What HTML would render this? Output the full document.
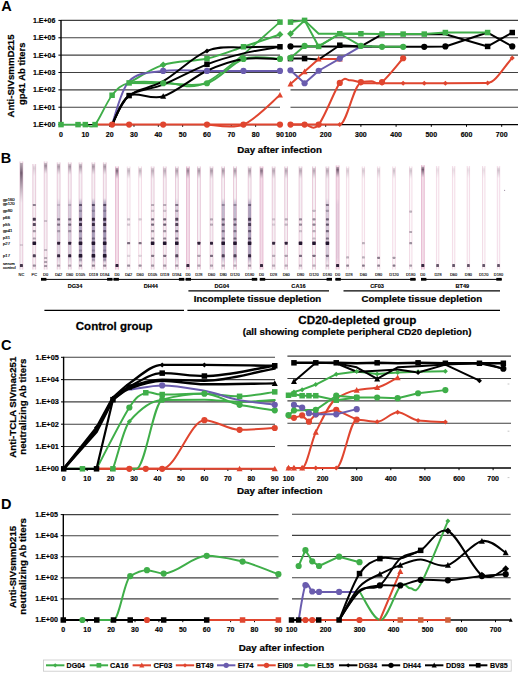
<!DOCTYPE html>
<html><head><meta charset="utf-8"><title>Figure</title>
<style>
html,body{margin:0;padding:0;background:#fff;}
body{width:520px;height:673px;overflow:hidden;}
svg{display:block;font-family:"Liberation Sans", sans-serif;}
</style></head>
<body>
<svg width="520" height="673" viewBox="0 0 520 673">
<rect width="520" height="673" fill="#fff"/>
<text x="1.20" y="11.40" font-size="14.5" font-weight="bold" text-anchor="start" fill="#000">A</text>
<line x1="61.00" y1="20.40" x2="280.00" y2="20.40" stroke="#404040" stroke-width="1.1"/>
<line x1="58.40" y1="20.40" x2="61.00" y2="20.40" stroke="#000" stroke-width="1"/>
<text x="55.40" y="22.80" font-size="7" font-weight="bold" text-anchor="end" fill="#000" textLength="22.4" lengthAdjust="spacingAndGlyphs" stroke="#000" stroke-width="0.154">1.E+06</text>
<line x1="61.00" y1="37.77" x2="280.00" y2="37.77" stroke="#404040" stroke-width="1.1"/>
<line x1="58.40" y1="37.77" x2="61.00" y2="37.77" stroke="#000" stroke-width="1"/>
<text x="55.40" y="40.17" font-size="7" font-weight="bold" text-anchor="end" fill="#000" textLength="22.4" lengthAdjust="spacingAndGlyphs" stroke="#000" stroke-width="0.154">1.E+05</text>
<line x1="61.00" y1="55.13" x2="280.00" y2="55.13" stroke="#404040" stroke-width="1.1"/>
<line x1="58.40" y1="55.13" x2="61.00" y2="55.13" stroke="#000" stroke-width="1"/>
<text x="55.40" y="57.53" font-size="7" font-weight="bold" text-anchor="end" fill="#000" textLength="22.4" lengthAdjust="spacingAndGlyphs" stroke="#000" stroke-width="0.154">1.E+04</text>
<line x1="61.00" y1="72.50" x2="280.00" y2="72.50" stroke="#404040" stroke-width="1.1"/>
<line x1="58.40" y1="72.50" x2="61.00" y2="72.50" stroke="#000" stroke-width="1"/>
<text x="55.40" y="74.90" font-size="7" font-weight="bold" text-anchor="end" fill="#000" textLength="22.4" lengthAdjust="spacingAndGlyphs" stroke="#000" stroke-width="0.154">1.E+03</text>
<line x1="61.00" y1="89.87" x2="280.00" y2="89.87" stroke="#404040" stroke-width="1.1"/>
<line x1="58.40" y1="89.87" x2="61.00" y2="89.87" stroke="#000" stroke-width="1"/>
<text x="55.40" y="92.27" font-size="7" font-weight="bold" text-anchor="end" fill="#000" textLength="22.4" lengthAdjust="spacingAndGlyphs" stroke="#000" stroke-width="0.154">1.E+02</text>
<line x1="61.00" y1="107.23" x2="280.00" y2="107.23" stroke="#404040" stroke-width="1.1"/>
<line x1="58.40" y1="107.23" x2="61.00" y2="107.23" stroke="#000" stroke-width="1"/>
<text x="55.40" y="109.63" font-size="7" font-weight="bold" text-anchor="end" fill="#000" textLength="22.4" lengthAdjust="spacingAndGlyphs" stroke="#000" stroke-width="0.154">1.E+01</text>
<line x1="58.40" y1="124.60" x2="61.00" y2="124.60" stroke="#000" stroke-width="1"/>
<text x="55.40" y="127.00" font-size="7" font-weight="bold" text-anchor="end" fill="#000" textLength="22.4" lengthAdjust="spacingAndGlyphs" stroke="#000" stroke-width="0.154">1.E+00</text>
<line x1="290.50" y1="20.40" x2="518.00" y2="20.40" stroke="#404040" stroke-width="1.1"/>
<line x1="290.50" y1="37.77" x2="518.00" y2="37.77" stroke="#404040" stroke-width="1.1"/>
<line x1="290.50" y1="55.13" x2="518.00" y2="55.13" stroke="#404040" stroke-width="1.1"/>
<line x1="290.50" y1="72.50" x2="518.00" y2="72.50" stroke="#404040" stroke-width="1.1"/>
<line x1="290.50" y1="89.87" x2="518.00" y2="89.87" stroke="#404040" stroke-width="1.1"/>
<line x1="290.50" y1="107.23" x2="518.00" y2="107.23" stroke="#404040" stroke-width="1.1"/>
<line x1="61.00" y1="19.90" x2="61.00" y2="125.30" stroke="#000" stroke-width="1.4"/>
<line x1="61.00" y1="124.60" x2="280.00" y2="124.60" stroke="#000" stroke-width="1.4"/>
<line x1="290.50" y1="124.60" x2="518.00" y2="124.60" stroke="#000" stroke-width="1.4"/>
<text x="61.00" y="137.00" font-size="7.0" font-weight="bold" text-anchor="middle" fill="#000" stroke="#000" stroke-width="0.154">0</text>
<text x="85.33" y="137.00" font-size="7.0" font-weight="bold" text-anchor="middle" fill="#000" stroke="#000" stroke-width="0.154">10</text>
<text x="109.66" y="137.00" font-size="7.0" font-weight="bold" text-anchor="middle" fill="#000" stroke="#000" stroke-width="0.154">20</text>
<text x="133.99" y="137.00" font-size="7.0" font-weight="bold" text-anchor="middle" fill="#000" stroke="#000" stroke-width="0.154">30</text>
<text x="158.32" y="137.00" font-size="7.0" font-weight="bold" text-anchor="middle" fill="#000" stroke="#000" stroke-width="0.154">40</text>
<text x="182.65" y="137.00" font-size="7.0" font-weight="bold" text-anchor="middle" fill="#000" stroke="#000" stroke-width="0.154">50</text>
<text x="206.98" y="137.00" font-size="7.0" font-weight="bold" text-anchor="middle" fill="#000" stroke="#000" stroke-width="0.154">60</text>
<text x="231.31" y="137.00" font-size="7.0" font-weight="bold" text-anchor="middle" fill="#000" stroke="#000" stroke-width="0.154">70</text>
<text x="255.64" y="137.00" font-size="7.0" font-weight="bold" text-anchor="middle" fill="#000" stroke="#000" stroke-width="0.154">80</text>
<text x="279.97" y="137.00" font-size="7.0" font-weight="bold" text-anchor="middle" fill="#000" stroke="#000" stroke-width="0.154">90</text>
<text x="290.50" y="137.00" font-size="7.0" font-weight="bold" text-anchor="middle" fill="#000" stroke="#000" stroke-width="0.154">100</text>
<text x="325.70" y="137.00" font-size="7.0" font-weight="bold" text-anchor="middle" fill="#000" stroke="#000" stroke-width="0.154">200</text>
<text x="360.90" y="137.00" font-size="7.0" font-weight="bold" text-anchor="middle" fill="#000" stroke="#000" stroke-width="0.154">300</text>
<text x="396.10" y="137.00" font-size="7.0" font-weight="bold" text-anchor="middle" fill="#000" stroke="#000" stroke-width="0.154">400</text>
<text x="431.30" y="137.00" font-size="7.0" font-weight="bold" text-anchor="middle" fill="#000" stroke="#000" stroke-width="0.154">500</text>
<text x="466.50" y="137.00" font-size="7.0" font-weight="bold" text-anchor="middle" fill="#000" stroke="#000" stroke-width="0.154">600</text>
<text x="501.70" y="137.00" font-size="7.0" font-weight="bold" text-anchor="middle" fill="#000" stroke="#000" stroke-width="0.154">700</text>
<line x1="85.33" y1="124.6" x2="85.33" y2="126.8" stroke="#000" stroke-width="1"/>
<line x1="109.66" y1="124.6" x2="109.66" y2="126.8" stroke="#000" stroke-width="1"/>
<line x1="133.99" y1="124.6" x2="133.99" y2="126.8" stroke="#000" stroke-width="1"/>
<line x1="158.32" y1="124.6" x2="158.32" y2="126.8" stroke="#000" stroke-width="1"/>
<line x1="182.65" y1="124.6" x2="182.65" y2="126.8" stroke="#000" stroke-width="1"/>
<line x1="206.98" y1="124.6" x2="206.98" y2="126.8" stroke="#000" stroke-width="1"/>
<line x1="231.31" y1="124.6" x2="231.31" y2="126.8" stroke="#000" stroke-width="1"/>
<line x1="255.64" y1="124.6" x2="255.64" y2="126.8" stroke="#000" stroke-width="1"/>
<line x1="279.97" y1="124.6" x2="279.97" y2="126.8" stroke="#000" stroke-width="1"/>
<line x1="325.70" y1="124.6" x2="325.70" y2="126.8" stroke="#000" stroke-width="1"/>
<line x1="360.90" y1="124.6" x2="360.90" y2="126.8" stroke="#000" stroke-width="1"/>
<line x1="396.10" y1="124.6" x2="396.10" y2="126.8" stroke="#000" stroke-width="1"/>
<line x1="431.30" y1="124.6" x2="431.30" y2="126.8" stroke="#000" stroke-width="1"/>
<line x1="466.50" y1="124.6" x2="466.50" y2="126.8" stroke="#000" stroke-width="1"/>
<line x1="501.70" y1="124.6" x2="501.70" y2="126.8" stroke="#000" stroke-width="1"/>
<text x="0" y="0" transform="translate(14.40,76.00) rotate(-90)" font-size="9.9" font-weight="bold" text-anchor="middle" fill="#000" textLength="83.0" lengthAdjust="spacingAndGlyphs" stroke="#000" stroke-width="0.218">Anti-SIVsmmD215</text>
<text x="0" y="0" transform="translate(24.60,73.80) rotate(-90)" font-size="9.9" font-weight="bold" text-anchor="middle" fill="#000" textLength="62.4" lengthAdjust="spacingAndGlyphs" stroke="#000" stroke-width="0.218">gp41 Ab titers</text>
<text x="279.60" y="153.10" font-size="9.9" font-weight="bold" text-anchor="middle" fill="#000" textLength="84.6" lengthAdjust="spacingAndGlyphs" stroke="#000" stroke-width="0.218">Day after infection</text>
<text x="1.00" y="349.70" font-size="14.5" font-weight="bold" text-anchor="start" fill="#000">C</text>
<line x1="63.60" y1="357.30" x2="275.00" y2="357.30" stroke="#404040" stroke-width="1.1"/>
<line x1="61.00" y1="357.30" x2="63.60" y2="357.30" stroke="#000" stroke-width="1"/>
<text x="58.80" y="359.70" font-size="7.3" font-weight="bold" text-anchor="end" fill="#000" textLength="23.4" lengthAdjust="spacingAndGlyphs" stroke="#000" stroke-width="0.161">1.E+05</text>
<line x1="63.60" y1="379.60" x2="275.00" y2="379.60" stroke="#404040" stroke-width="1.1"/>
<line x1="61.00" y1="379.60" x2="63.60" y2="379.60" stroke="#000" stroke-width="1"/>
<text x="58.80" y="382.00" font-size="7.3" font-weight="bold" text-anchor="end" fill="#000" textLength="23.4" lengthAdjust="spacingAndGlyphs" stroke="#000" stroke-width="0.161">1.E+04</text>
<line x1="63.60" y1="401.90" x2="275.00" y2="401.90" stroke="#404040" stroke-width="1.1"/>
<line x1="61.00" y1="401.90" x2="63.60" y2="401.90" stroke="#000" stroke-width="1"/>
<text x="58.80" y="404.30" font-size="7.3" font-weight="bold" text-anchor="end" fill="#000" textLength="23.4" lengthAdjust="spacingAndGlyphs" stroke="#000" stroke-width="0.161">1.E+03</text>
<line x1="63.60" y1="424.20" x2="275.00" y2="424.20" stroke="#404040" stroke-width="1.1"/>
<line x1="61.00" y1="424.20" x2="63.60" y2="424.20" stroke="#000" stroke-width="1"/>
<text x="58.80" y="426.60" font-size="7.3" font-weight="bold" text-anchor="end" fill="#000" textLength="23.4" lengthAdjust="spacingAndGlyphs" stroke="#000" stroke-width="0.161">1.E+02</text>
<line x1="63.60" y1="446.50" x2="275.00" y2="446.50" stroke="#404040" stroke-width="1.1"/>
<line x1="61.00" y1="446.50" x2="63.60" y2="446.50" stroke="#000" stroke-width="1"/>
<text x="58.80" y="448.90" font-size="7.3" font-weight="bold" text-anchor="end" fill="#000" textLength="23.4" lengthAdjust="spacingAndGlyphs" stroke="#000" stroke-width="0.161">1.E+01</text>
<line x1="61.00" y1="468.80" x2="63.60" y2="468.80" stroke="#000" stroke-width="1"/>
<text x="58.80" y="471.20" font-size="7.3" font-weight="bold" text-anchor="end" fill="#000" textLength="23.4" lengthAdjust="spacingAndGlyphs" stroke="#000" stroke-width="0.161">1.E+00</text>
<line x1="287.40" y1="356.10" x2="511.00" y2="356.10" stroke="#404040" stroke-width="1.1"/>
<line x1="287.40" y1="378.48" x2="511.00" y2="378.48" stroke="#404040" stroke-width="1.1"/>
<line x1="287.40" y1="400.86" x2="511.00" y2="400.86" stroke="#404040" stroke-width="1.1"/>
<line x1="287.40" y1="423.24" x2="511.00" y2="423.24" stroke="#404040" stroke-width="1.1"/>
<line x1="287.40" y1="445.62" x2="511.00" y2="445.62" stroke="#404040" stroke-width="1.1"/>
<line x1="63.60" y1="356.80" x2="63.60" y2="469.50" stroke="#000" stroke-width="1.4"/>
<line x1="63.60" y1="468.80" x2="275.00" y2="468.80" stroke="#000" stroke-width="1.4"/>
<line x1="287.40" y1="468.00" x2="511.00" y2="468.00" stroke="#000" stroke-width="1.4"/>
<text x="63.70" y="480.60" font-size="7.0" font-weight="bold" text-anchor="middle" fill="#000" stroke="#000" stroke-width="0.154">0</text>
<text x="87.15" y="480.60" font-size="7.0" font-weight="bold" text-anchor="middle" fill="#000" stroke="#000" stroke-width="0.154">10</text>
<text x="110.60" y="480.60" font-size="7.0" font-weight="bold" text-anchor="middle" fill="#000" stroke="#000" stroke-width="0.154">20</text>
<text x="134.05" y="480.60" font-size="7.0" font-weight="bold" text-anchor="middle" fill="#000" stroke="#000" stroke-width="0.154">30</text>
<text x="157.50" y="480.60" font-size="7.0" font-weight="bold" text-anchor="middle" fill="#000" stroke="#000" stroke-width="0.154">40</text>
<text x="180.95" y="480.60" font-size="7.0" font-weight="bold" text-anchor="middle" fill="#000" stroke="#000" stroke-width="0.154">50</text>
<text x="204.40" y="480.60" font-size="7.0" font-weight="bold" text-anchor="middle" fill="#000" stroke="#000" stroke-width="0.154">60</text>
<text x="227.85" y="480.60" font-size="7.0" font-weight="bold" text-anchor="middle" fill="#000" stroke="#000" stroke-width="0.154">70</text>
<text x="251.30" y="480.60" font-size="7.0" font-weight="bold" text-anchor="middle" fill="#000" stroke="#000" stroke-width="0.154">80</text>
<text x="274.75" y="480.60" font-size="7.0" font-weight="bold" text-anchor="middle" fill="#000" stroke="#000" stroke-width="0.154">90</text>
<text x="288.50" y="480.60" font-size="7.0" font-weight="bold" text-anchor="middle" fill="#000" stroke="#000" stroke-width="0.154">100</text>
<text x="322.60" y="480.60" font-size="7.0" font-weight="bold" text-anchor="middle" fill="#000" stroke="#000" stroke-width="0.154">200</text>
<text x="356.70" y="480.60" font-size="7.0" font-weight="bold" text-anchor="middle" fill="#000" stroke="#000" stroke-width="0.154">300</text>
<text x="390.80" y="480.60" font-size="7.0" font-weight="bold" text-anchor="middle" fill="#000" stroke="#000" stroke-width="0.154">400</text>
<text x="424.90" y="480.60" font-size="7.0" font-weight="bold" text-anchor="middle" fill="#000" stroke="#000" stroke-width="0.154">500</text>
<text x="459.00" y="480.60" font-size="7.0" font-weight="bold" text-anchor="middle" fill="#000" stroke="#000" stroke-width="0.154">600</text>
<text x="493.10" y="480.60" font-size="7.0" font-weight="bold" text-anchor="middle" fill="#000" stroke="#000" stroke-width="0.154">700</text>
<line x1="87.15" y1="468.8" x2="87.15" y2="471" stroke="#000" stroke-width="1"/>
<line x1="110.60" y1="468.8" x2="110.60" y2="471" stroke="#000" stroke-width="1"/>
<line x1="134.05" y1="468.8" x2="134.05" y2="471" stroke="#000" stroke-width="1"/>
<line x1="157.50" y1="468.8" x2="157.50" y2="471" stroke="#000" stroke-width="1"/>
<line x1="180.95" y1="468.8" x2="180.95" y2="471" stroke="#000" stroke-width="1"/>
<line x1="204.40" y1="468.8" x2="204.40" y2="471" stroke="#000" stroke-width="1"/>
<line x1="227.85" y1="468.8" x2="227.85" y2="471" stroke="#000" stroke-width="1"/>
<line x1="251.30" y1="468.8" x2="251.30" y2="471" stroke="#000" stroke-width="1"/>
<line x1="274.75" y1="468.8" x2="274.75" y2="471" stroke="#000" stroke-width="1"/>
<line x1="322.60" y1="468" x2="322.60" y2="470.2" stroke="#000" stroke-width="1"/>
<line x1="356.70" y1="468" x2="356.70" y2="470.2" stroke="#000" stroke-width="1"/>
<line x1="390.80" y1="468" x2="390.80" y2="470.2" stroke="#000" stroke-width="1"/>
<line x1="424.90" y1="468" x2="424.90" y2="470.2" stroke="#000" stroke-width="1"/>
<line x1="459.00" y1="468" x2="459.00" y2="470.2" stroke="#000" stroke-width="1"/>
<line x1="493.10" y1="468" x2="493.10" y2="470.2" stroke="#000" stroke-width="1"/>
<text x="0" y="0" transform="translate(15.70,407.20) rotate(-90)" font-size="9.9" font-weight="bold" text-anchor="middle" fill="#000" textLength="101.0" lengthAdjust="spacingAndGlyphs" stroke="#000" stroke-width="0.218">Anti-TCLA SIVmac251</text>
<text x="0" y="0" transform="translate(26.40,406.70) rotate(-90)" font-size="9.9" font-weight="bold" text-anchor="middle" fill="#000" textLength="96.0" lengthAdjust="spacingAndGlyphs" stroke="#000" stroke-width="0.218">neutralizing Ab titers</text>
<text x="279.80" y="494.00" font-size="9.9" font-weight="bold" text-anchor="middle" fill="#000" textLength="85.5" lengthAdjust="spacingAndGlyphs" stroke="#000" stroke-width="0.218">Day after infection</text>
<text x="1.00" y="509.00" font-size="14.5" font-weight="bold" text-anchor="start" fill="#000">D</text>
<line x1="63.30" y1="514.60" x2="278.50" y2="514.60" stroke="#404040" stroke-width="1.1"/>
<line x1="60.70" y1="514.60" x2="63.30" y2="514.60" stroke="#000" stroke-width="1"/>
<text x="57.90" y="517.00" font-size="7.1" font-weight="bold" text-anchor="end" fill="#000" textLength="22.7" lengthAdjust="spacingAndGlyphs" stroke="#000" stroke-width="0.156">1.E+05</text>
<line x1="63.30" y1="535.68" x2="278.50" y2="535.68" stroke="#404040" stroke-width="1.1"/>
<line x1="60.70" y1="535.68" x2="63.30" y2="535.68" stroke="#000" stroke-width="1"/>
<text x="57.90" y="538.08" font-size="7.1" font-weight="bold" text-anchor="end" fill="#000" textLength="22.7" lengthAdjust="spacingAndGlyphs" stroke="#000" stroke-width="0.156">1.E+04</text>
<line x1="63.30" y1="556.76" x2="278.50" y2="556.76" stroke="#404040" stroke-width="1.1"/>
<line x1="60.70" y1="556.76" x2="63.30" y2="556.76" stroke="#000" stroke-width="1"/>
<text x="57.90" y="559.16" font-size="7.1" font-weight="bold" text-anchor="end" fill="#000" textLength="22.7" lengthAdjust="spacingAndGlyphs" stroke="#000" stroke-width="0.156">1.E+03</text>
<line x1="63.30" y1="577.84" x2="278.50" y2="577.84" stroke="#404040" stroke-width="1.1"/>
<line x1="60.70" y1="577.84" x2="63.30" y2="577.84" stroke="#000" stroke-width="1"/>
<text x="57.90" y="580.24" font-size="7.1" font-weight="bold" text-anchor="end" fill="#000" textLength="22.7" lengthAdjust="spacingAndGlyphs" stroke="#000" stroke-width="0.156">1.E+02</text>
<line x1="63.30" y1="598.92" x2="278.50" y2="598.92" stroke="#404040" stroke-width="1.1"/>
<line x1="60.70" y1="598.92" x2="63.30" y2="598.92" stroke="#000" stroke-width="1"/>
<text x="57.90" y="601.32" font-size="7.1" font-weight="bold" text-anchor="end" fill="#000" textLength="22.7" lengthAdjust="spacingAndGlyphs" stroke="#000" stroke-width="0.156">1.E+01</text>
<line x1="60.70" y1="620.00" x2="63.30" y2="620.00" stroke="#000" stroke-width="1"/>
<text x="57.90" y="622.40" font-size="7.1" font-weight="bold" text-anchor="end" fill="#000" textLength="22.7" lengthAdjust="spacingAndGlyphs" stroke="#000" stroke-width="0.156">1.E+00</text>
<line x1="292.00" y1="514.20" x2="510.70" y2="514.20" stroke="#404040" stroke-width="1.1"/>
<line x1="292.00" y1="535.36" x2="510.70" y2="535.36" stroke="#404040" stroke-width="1.1"/>
<line x1="292.00" y1="556.52" x2="510.70" y2="556.52" stroke="#404040" stroke-width="1.1"/>
<line x1="292.00" y1="577.68" x2="510.70" y2="577.68" stroke="#404040" stroke-width="1.1"/>
<line x1="292.00" y1="598.84" x2="510.70" y2="598.84" stroke="#404040" stroke-width="1.1"/>
<line x1="63.30" y1="514.10" x2="63.30" y2="620.70" stroke="#000" stroke-width="1.4"/>
<line x1="63.30" y1="620.00" x2="278.50" y2="620.00" stroke="#000" stroke-width="1.4"/>
<line x1="292.00" y1="620.00" x2="510.70" y2="620.00" stroke="#000" stroke-width="1.4"/>
<text x="63.30" y="632.00" font-size="7.0" font-weight="bold" text-anchor="middle" fill="#000" stroke="#000" stroke-width="0.154">0</text>
<text x="87.20" y="632.00" font-size="7.0" font-weight="bold" text-anchor="middle" fill="#000" stroke="#000" stroke-width="0.154">10</text>
<text x="111.10" y="632.00" font-size="7.0" font-weight="bold" text-anchor="middle" fill="#000" stroke="#000" stroke-width="0.154">20</text>
<text x="135.00" y="632.00" font-size="7.0" font-weight="bold" text-anchor="middle" fill="#000" stroke="#000" stroke-width="0.154">30</text>
<text x="158.90" y="632.00" font-size="7.0" font-weight="bold" text-anchor="middle" fill="#000" stroke="#000" stroke-width="0.154">40</text>
<text x="182.80" y="632.00" font-size="7.0" font-weight="bold" text-anchor="middle" fill="#000" stroke="#000" stroke-width="0.154">50</text>
<text x="206.70" y="632.00" font-size="7.0" font-weight="bold" text-anchor="middle" fill="#000" stroke="#000" stroke-width="0.154">60</text>
<text x="230.60" y="632.00" font-size="7.0" font-weight="bold" text-anchor="middle" fill="#000" stroke="#000" stroke-width="0.154">70</text>
<text x="254.50" y="632.00" font-size="7.0" font-weight="bold" text-anchor="middle" fill="#000" stroke="#000" stroke-width="0.154">80</text>
<text x="278.40" y="632.00" font-size="7.0" font-weight="bold" text-anchor="middle" fill="#000" stroke="#000" stroke-width="0.154">90</text>
<text x="291.50" y="632.00" font-size="7.0" font-weight="bold" text-anchor="middle" fill="#000" stroke="#000" stroke-width="0.154">100</text>
<text x="325.50" y="632.00" font-size="7.0" font-weight="bold" text-anchor="middle" fill="#000" stroke="#000" stroke-width="0.154">200</text>
<text x="359.50" y="632.00" font-size="7.0" font-weight="bold" text-anchor="middle" fill="#000" stroke="#000" stroke-width="0.154">300</text>
<text x="393.50" y="632.00" font-size="7.0" font-weight="bold" text-anchor="middle" fill="#000" stroke="#000" stroke-width="0.154">400</text>
<text x="427.50" y="632.00" font-size="7.0" font-weight="bold" text-anchor="middle" fill="#000" stroke="#000" stroke-width="0.154">500</text>
<text x="461.50" y="632.00" font-size="7.0" font-weight="bold" text-anchor="middle" fill="#000" stroke="#000" stroke-width="0.154">600</text>
<text x="495.50" y="632.00" font-size="7.0" font-weight="bold" text-anchor="middle" fill="#000" stroke="#000" stroke-width="0.154">700</text>
<line x1="87.20" y1="620" x2="87.20" y2="622.2" stroke="#000" stroke-width="1"/>
<line x1="111.10" y1="620" x2="111.10" y2="622.2" stroke="#000" stroke-width="1"/>
<line x1="135.00" y1="620" x2="135.00" y2="622.2" stroke="#000" stroke-width="1"/>
<line x1="158.90" y1="620" x2="158.90" y2="622.2" stroke="#000" stroke-width="1"/>
<line x1="182.80" y1="620" x2="182.80" y2="622.2" stroke="#000" stroke-width="1"/>
<line x1="206.70" y1="620" x2="206.70" y2="622.2" stroke="#000" stroke-width="1"/>
<line x1="230.60" y1="620" x2="230.60" y2="622.2" stroke="#000" stroke-width="1"/>
<line x1="254.50" y1="620" x2="254.50" y2="622.2" stroke="#000" stroke-width="1"/>
<line x1="278.40" y1="620" x2="278.40" y2="622.2" stroke="#000" stroke-width="1"/>
<line x1="325.50" y1="620" x2="325.50" y2="622.2" stroke="#000" stroke-width="1"/>
<line x1="359.50" y1="620" x2="359.50" y2="622.2" stroke="#000" stroke-width="1"/>
<line x1="393.50" y1="620" x2="393.50" y2="622.2" stroke="#000" stroke-width="1"/>
<line x1="427.50" y1="620" x2="427.50" y2="622.2" stroke="#000" stroke-width="1"/>
<line x1="461.50" y1="620" x2="461.50" y2="622.2" stroke="#000" stroke-width="1"/>
<line x1="495.50" y1="620" x2="495.50" y2="622.2" stroke="#000" stroke-width="1"/>
<text x="0" y="0" transform="translate(15.50,567.00) rotate(-90)" font-size="9.9" font-weight="bold" text-anchor="middle" fill="#000" textLength="82.0" lengthAdjust="spacingAndGlyphs" stroke="#000" stroke-width="0.218">Anti-SIVsmmD215</text>
<text x="0" y="0" transform="translate(26.40,566.40) rotate(-90)" font-size="9.9" font-weight="bold" text-anchor="middle" fill="#000" textLength="96.5" lengthAdjust="spacingAndGlyphs" stroke="#000" stroke-width="0.218">neutralizing Ab titers</text>
<text x="281.50" y="651.00" font-size="9.9" font-weight="bold" text-anchor="middle" fill="#000" textLength="85.5" lengthAdjust="spacingAndGlyphs" stroke="#000" stroke-width="0.218">Day after infection</text>
<path d="M129.12,82.91C134.80,79.90 150.21,68.90 163.19,64.85C176.16,60.79 193.60,61.60 206.98,58.59C220.36,55.58 231.31,50.81 243.47,46.78C255.64,42.76 273.89,36.51 279.97,34.45" fill="none" stroke="#3fae49" stroke-width="2.0" stroke-linejoin="round" stroke-linecap="round"/>
<path d="M61.00,124.60C63.84,124.60 73.98,124.60 78.03,124.60C82.09,124.60 82.49,124.60 85.33,124.60C88.17,124.60 90.60,129.49 95.06,124.60C99.52,119.71 106.42,102.19 112.09,95.24C117.77,88.30 120.61,85.11 129.12,82.91C137.64,80.71 150.21,82.19 163.19,82.04C176.16,81.90 187.52,92.03 206.98,82.04C226.44,72.06 267.80,32.10 279.97,22.12" fill="none" stroke="#3fae49" stroke-width="1.8" stroke-linejoin="round" stroke-linecap="round"/>
<path d="M206.98,124.60C213.06,124.60 231.31,129.52 243.47,124.60C255.64,119.68 273.89,99.99 279.97,95.07" fill="none" stroke="#e0452f" stroke-width="2.0" stroke-linejoin="round" stroke-linecap="round"/>
<path d="M112.09,124.60C114.93,117.36 120.61,90.12 129.12,81.17C137.64,72.23 150.21,72.63 163.19,70.93C176.16,69.22 193.60,70.93 206.98,70.93C220.36,70.93 231.31,70.93 243.47,70.93C255.64,70.93 273.89,70.93 279.97,70.93" fill="none" stroke="#6a5cae" stroke-width="2.0" stroke-linejoin="round" stroke-linecap="round"/>
<path d="M95.06,124.60C97.90,124.60 106.42,124.60 112.09,124.60C117.77,124.60 120.61,124.60 129.12,124.60C137.64,124.60 150.21,124.60 163.19,124.60C176.16,124.60 193.60,124.60 206.98,124.60C220.36,124.60 231.31,124.60 243.47,124.60C255.64,124.60 273.89,124.60 279.97,124.60" fill="none" stroke="#e0452f" stroke-width="2.0" stroke-linejoin="round" stroke-linecap="round"/>
<path d="M129.12,82.91C134.80,82.97 150.21,83.20 163.19,83.26C176.16,83.32 193.60,87.31 206.98,83.26C220.36,79.21 231.31,62.99 243.47,58.94C255.64,54.89 273.89,58.94 279.97,58.94" fill="none" stroke="#3fae49" stroke-width="2.0" stroke-linejoin="round" stroke-linecap="round"/>
<path d="M112.09,124.60C114.93,119.77 120.61,102.83 129.12,95.59C137.64,88.35 150.21,88.62 163.19,81.17C176.16,73.73 193.60,56.60 206.98,50.95C220.36,45.31 231.31,48.00 243.47,47.30C255.64,46.61 273.89,46.87 279.97,46.78" fill="none" stroke="#000000" stroke-width="2.0" stroke-linejoin="round" stroke-linecap="round"/>
<path d="M112.09,124.60C114.93,119.77 120.61,100.31 129.12,95.59C137.64,90.87 150.21,100.43 163.19,96.29C176.16,92.15 193.60,76.98 206.98,70.75C220.36,64.53 231.31,60.91 243.47,58.94C255.64,56.97 273.89,58.94 279.97,58.94" fill="none" stroke="#000000" stroke-width="2.0" stroke-linejoin="round" stroke-linecap="round"/>
<path d="M112.09,124.60C114.93,119.77 120.61,102.25 129.12,95.59C137.64,88.93 150.21,89.86 163.19,84.65C176.16,79.44 193.60,69.54 206.98,64.33C220.36,59.12 231.31,56.31 243.47,53.38C255.64,50.46 273.89,47.88 279.97,46.78" fill="none" stroke="#000000" stroke-width="2.0" stroke-linejoin="round" stroke-linecap="round"/>
<path d="M163.19,61.45L166.59,64.85L163.19,68.25L159.79,64.85Z" fill="#3fae49"/>
<path d="M279.97,31.05L283.37,34.45L279.97,37.85L276.57,34.45Z" fill="#3fae49"/>
<rect x="204.23" y="55.84" width="5.50" height="5.50" fill="#3fae49"/>
<rect x="240.72" y="44.03" width="5.50" height="5.50" fill="#3fae49"/>
<rect x="58.25" y="121.85" width="5.50" height="5.50" fill="#3fae49"/>
<rect x="75.28" y="121.85" width="5.50" height="5.50" fill="#3fae49"/>
<rect x="82.58" y="121.85" width="5.50" height="5.50" fill="#3fae49"/>
<rect x="92.31" y="121.85" width="5.50" height="5.50" fill="#3fae49"/>
<rect x="109.34" y="92.49" width="5.50" height="5.50" fill="#3fae49"/>
<rect x="126.37" y="80.16" width="5.50" height="5.50" fill="#3fae49"/>
<rect x="277.22" y="19.37" width="5.50" height="5.50" fill="#3fae49"/>
<path d="M279.97,91.92L282.97,97.62L276.97,97.62Z" fill="#e0452f"/>
<circle cx="163.19" cy="70.93" r="3.10" fill="#6a5cae"/>
<circle cx="206.98" cy="70.93" r="3.10" fill="#6a5cae"/>
<circle cx="243.47" cy="70.93" r="3.10" fill="#6a5cae"/>
<circle cx="279.97" cy="70.93" r="3.10" fill="#6a5cae"/>
<circle cx="112.09" cy="124.60" r="3.10" fill="#e0452f"/>
<circle cx="129.12" cy="124.60" r="3.10" fill="#e0452f"/>
<circle cx="163.19" cy="124.60" r="3.10" fill="#e0452f"/>
<circle cx="206.98" cy="124.60" r="3.10" fill="#e0452f"/>
<circle cx="243.47" cy="124.60" r="3.10" fill="#e0452f"/>
<circle cx="279.97" cy="124.60" r="3.10" fill="#e0452f"/>
<circle cx="163.19" cy="83.26" r="3.10" fill="#3fae49"/>
<circle cx="206.98" cy="83.26" r="3.10" fill="#3fae49"/>
<circle cx="243.47" cy="58.94" r="3.10" fill="#3fae49"/>
<circle cx="279.97" cy="58.94" r="3.10" fill="#3fae49"/>
<path d="M206.98,48.45L209.48,50.95L206.98,53.45L204.48,50.95Z" fill="#000000"/>
<path d="M163.19,93.14L166.19,98.84L160.19,98.84Z" fill="#000000"/>
<rect x="126.37" y="92.84" width="5.50" height="5.50" fill="#000000"/>
<rect x="204.23" y="61.58" width="5.50" height="5.50" fill="#000000"/>
<rect x="277.22" y="44.03" width="5.50" height="5.50" fill="#000000"/>
<path d="M290.50,124.60C295.19,124.60 299.89,124.60 304.58,124.60C309.27,124.60 313.97,124.60 318.66,124.60C325.70,124.60 332.74,124.60 339.78,124.60C346.82,124.60 353.86,83.26 360.90,83.26C367.94,83.26 374.98,83.26 382.02,83.26C389.06,83.26 396.10,83.26 403.14,83.26C410.18,83.26 417.22,83.26 424.26,83.26C431.30,83.26 438.34,83.26 445.38,83.26C459.46,83.26 473.54,83.16 487.62,82.91C495.83,82.77 504.05,66.35 512.26,58.07" fill="none" stroke="#e0452f" stroke-width="2.0" stroke-linejoin="round" stroke-linecap="round"/>
<path d="M290.50,124.60C292.85,124.60 299.89,124.60 304.58,124.60C309.27,124.60 312.79,131.55 318.66,124.60C324.53,117.65 334.50,90.29 339.78,82.91C345.06,75.53 346.82,80.45 350.34,80.31C353.86,80.16 357.38,81.90 360.90,82.04C364.42,82.19 367.94,81.17 371.46,81.17C374.98,81.17 376.74,85.86 382.02,82.04C387.30,78.22 399.62,62.21 403.14,58.25" fill="none" stroke="#e0452f" stroke-width="2.0" stroke-linejoin="round" stroke-linecap="round"/>
<path d="M290.50,83.95L304.58,71.62L318.66,58.94L339.78,58.94" fill="none" stroke="#e0452f" stroke-width="2.0" stroke-linejoin="round" stroke-linecap="round"/>
<path d="M290.50,70.23L304.58,83.26L318.66,70.75L339.78,58.59L360.90,46.43L371.46,46.43" fill="none" stroke="#6a5cae" stroke-width="2.0" stroke-linejoin="round" stroke-linecap="round"/>
<path d="M290.50,46.43L304.58,46.43L318.66,46.43L339.78,46.43L360.90,46.43L382.02,46.78L403.14,46.78L424.26,46.78L445.38,46.43L487.62,32.54L512.26,46.43" fill="none" stroke="#000000" stroke-width="2.0" stroke-linejoin="round" stroke-linecap="round"/>
<path d="M290.50,58.59L304.58,58.59L318.66,59.46L339.78,45.22L360.90,46.43L382.02,34.28L403.14,34.28L424.26,34.28L445.38,34.28L487.62,46.43L512.26,32.54" fill="none" stroke="#000000" stroke-width="2.0" stroke-linejoin="round" stroke-linecap="round"/>
<path d="M290.50,57.90L304.58,45.91L318.66,46.43L339.78,33.75L360.90,45.91L382.02,46.78L403.14,46.78" fill="none" stroke="#3fae49" stroke-width="2.0" stroke-linejoin="round" stroke-linecap="round"/>
<path d="M290.50,33.75L304.58,20.38L318.66,33.75L339.78,33.75L360.90,33.75" fill="none" stroke="#3fae49" stroke-width="2.0" stroke-linejoin="round" stroke-linecap="round"/>
<path d="M290.50,22.12L304.58,20.38L318.66,46.43L339.78,33.75L360.90,33.75L382.02,34.10L403.14,34.10L424.26,34.10L445.38,32.54L487.62,32.54" fill="none" stroke="#3fae49" stroke-width="2.0" stroke-linejoin="round" stroke-linecap="round"/>
<path d="M290.50,122.10L293.00,124.60L290.50,127.10L288.00,124.60Z" fill="#e0452f"/>
<path d="M304.58,122.10L307.08,124.60L304.58,127.10L302.08,124.60Z" fill="#e0452f"/>
<path d="M318.66,122.10L321.16,124.60L318.66,127.10L316.16,124.60Z" fill="#e0452f"/>
<path d="M339.78,122.10L342.28,124.60L339.78,127.10L337.28,124.60Z" fill="#e0452f"/>
<path d="M360.90,80.76L363.40,83.26L360.90,85.76L358.40,83.26Z" fill="#e0452f"/>
<path d="M382.02,80.76L384.52,83.26L382.02,85.76L379.52,83.26Z" fill="#e0452f"/>
<path d="M403.14,80.76L405.64,83.26L403.14,85.76L400.64,83.26Z" fill="#e0452f"/>
<path d="M424.26,80.76L426.76,83.26L424.26,85.76L421.76,83.26Z" fill="#e0452f"/>
<path d="M445.38,80.76L447.88,83.26L445.38,85.76L442.88,83.26Z" fill="#e0452f"/>
<path d="M487.62,80.41L490.12,82.91L487.62,85.41L485.12,82.91Z" fill="#e0452f"/>
<path d="M512.26,55.57L514.76,58.07L512.26,60.57L509.76,58.07Z" fill="#e0452f"/>
<circle cx="290.50" cy="124.60" r="3.10" fill="#e0452f"/>
<circle cx="304.58" cy="124.60" r="3.10" fill="#e0452f"/>
<circle cx="318.66" cy="124.60" r="3.10" fill="#e0452f"/>
<circle cx="339.78" cy="82.91" r="3.10" fill="#e0452f"/>
<circle cx="360.90" cy="82.04" r="3.10" fill="#e0452f"/>
<circle cx="382.02" cy="82.04" r="3.10" fill="#e0452f"/>
<circle cx="403.14" cy="58.25" r="3.10" fill="#e0452f"/>
<path d="M290.50,80.80L293.50,86.50L287.50,86.50Z" fill="#e0452f"/>
<path d="M304.58,68.47L307.58,74.17L301.58,74.17Z" fill="#e0452f"/>
<path d="M318.66,55.79L321.66,61.49L315.66,61.49Z" fill="#e0452f"/>
<path d="M339.78,55.79L342.78,61.49L336.78,61.49Z" fill="#e0452f"/>
<circle cx="290.50" cy="70.23" r="3.10" fill="#6a5cae"/>
<circle cx="304.58" cy="83.26" r="3.10" fill="#6a5cae"/>
<circle cx="318.66" cy="70.75" r="3.10" fill="#6a5cae"/>
<circle cx="339.78" cy="58.59" r="3.10" fill="#6a5cae"/>
<circle cx="290.50" cy="46.43" r="3.10" fill="#000000"/>
<circle cx="424.26" cy="46.78" r="3.10" fill="#000000"/>
<circle cx="445.38" cy="46.43" r="3.10" fill="#000000"/>
<circle cx="512.26" cy="46.43" r="3.10" fill="#000000"/>
<rect x="287.75" y="55.84" width="5.50" height="5.50" fill="#000000"/>
<rect x="301.83" y="55.84" width="5.50" height="5.50" fill="#000000"/>
<rect x="337.03" y="42.47" width="5.50" height="5.50" fill="#000000"/>
<rect x="484.87" y="43.68" width="5.50" height="5.50" fill="#000000"/>
<rect x="509.51" y="29.79" width="5.50" height="5.50" fill="#000000"/>
<circle cx="290.50" cy="57.90" r="3.10" fill="#3fae49"/>
<circle cx="304.58" cy="45.91" r="3.10" fill="#3fae49"/>
<circle cx="360.90" cy="45.91" r="3.10" fill="#3fae49"/>
<circle cx="382.02" cy="46.78" r="3.10" fill="#3fae49"/>
<circle cx="403.14" cy="46.78" r="3.10" fill="#3fae49"/>
<path d="M290.50,30.35L293.90,33.75L290.50,37.15L287.10,33.75Z" fill="#3fae49"/>
<rect x="287.75" y="19.37" width="5.50" height="5.50" fill="#3fae49"/>
<rect x="301.83" y="17.63" width="5.50" height="5.50" fill="#3fae49"/>
<rect x="315.91" y="43.68" width="5.50" height="5.50" fill="#3fae49"/>
<rect x="337.03" y="31.00" width="5.50" height="5.50" fill="#3fae49"/>
<rect x="358.15" y="31.00" width="5.50" height="5.50" fill="#3fae49"/>
<rect x="379.27" y="31.35" width="5.50" height="5.50" fill="#3fae49"/>
<rect x="400.39" y="31.35" width="5.50" height="5.50" fill="#3fae49"/>
<rect x="421.51" y="31.35" width="5.50" height="5.50" fill="#3fae49"/>
<rect x="442.63" y="29.79" width="5.50" height="5.50" fill="#3fae49"/>
<rect x="484.87" y="29.79" width="5.50" height="5.50" fill="#3fae49"/>
<path d="M96.53,468.80C102.00,468.80 107.47,468.80 112.95,468.80C118.42,468.80 123.89,468.80 129.36,468.80C134.83,468.80 140.30,468.80 145.78,468.80C151.25,468.80 156.72,468.80 162.19,468.80C176.26,468.80 190.33,468.80 204.40,468.80C216.13,468.80 227.85,468.80 239.58,468.80C251.30,468.80 263.03,468.80 274.75,468.80" fill="none" stroke="#e0452f" stroke-width="2.0" stroke-linejoin="round" stroke-linecap="round"/>
<path d="M96.53,468.80C102.00,468.80 107.47,468.80 112.95,468.80C118.42,468.80 123.89,468.80 129.36,468.80C134.83,468.80 140.30,468.80 145.78,468.80C151.25,468.80 156.72,468.80 162.19,468.80C176.26,468.80 190.33,420.19 204.40,420.19C216.13,420.19 227.85,429.78 239.58,429.78C251.30,429.78 263.03,428.59 274.75,427.99" fill="none" stroke="#e0452f" stroke-width="2.0" stroke-linejoin="round" stroke-linecap="round"/>
<path d="M112.95,468.80C118.42,453.04 123.89,427.78 129.36,421.52C140.30,409.01 151.25,400.35 162.19,400.12C176.26,399.81 190.33,399.67 204.40,399.67C216.13,399.67 227.85,401.90 239.58,401.90C251.30,401.90 263.03,400.71 274.75,400.12" fill="none" stroke="#3fae49" stroke-width="2.0" stroke-linejoin="round" stroke-linecap="round"/>
<path d="M129.36,468.80C131.71,468.80 134.05,468.80 136.40,468.80C144.99,468.80 153.59,402.18 162.19,399.67C176.26,395.56 190.33,393.65 204.40,393.65C216.13,393.65 227.85,402.32 239.58,404.80C251.30,407.28 263.03,408.52 274.75,410.37" fill="none" stroke="#3fae49" stroke-width="2.0" stroke-linejoin="round" stroke-linecap="round"/>
<path d="M63.70,468.80L82.46,468.80L96.53,468.80" fill="none" stroke="#3fae49" stroke-width="2.0" stroke-linejoin="round" stroke-linecap="round"/>
<path d="M96.53,468.80C102.00,458.58 121.15,420.15 129.36,407.48C137.57,394.80 140.30,394.91 145.78,392.76C151.25,390.60 152.42,394.39 162.19,394.54C171.96,394.69 191.50,393.35 204.40,393.65C217.30,393.95 227.85,396.62 239.58,396.32C251.30,396.03 268.89,392.61 274.75,391.87" fill="none" stroke="#3fae49" stroke-width="2.0" stroke-linejoin="round" stroke-linecap="round"/>
<path d="M129.36,389.63C140.30,388.22 151.25,385.40 162.19,385.40C176.26,385.40 190.33,388.31 204.40,390.75C216.13,392.79 227.85,398.03 239.58,400.12C251.30,402.20 263.03,403.24 274.75,404.80" fill="none" stroke="#6a5cae" stroke-width="2.0" stroke-linejoin="round" stroke-linecap="round"/>
<path d="M63.70,468.80L96.53,432.00L112.95,399.67" fill="none" stroke="#000000" stroke-width="2.6" stroke-linejoin="round" stroke-linecap="round"/>
<path d="M63.70,468.80L96.53,429.78L112.95,398.33" fill="none" stroke="#000000" stroke-width="2.6" stroke-linejoin="round" stroke-linecap="round"/>
<path d="M63.70,468.80L96.53,427.55L112.95,397.44" fill="none" stroke="#000000" stroke-width="2.6" stroke-linejoin="round" stroke-linecap="round"/>
<path d="M63.70,468.80L96.53,468.80L112.95,399.67" fill="none" stroke="#000000" stroke-width="2.2" stroke-linejoin="round" stroke-linecap="round"/>
<path d="M112.95,399.67C118.42,395.95 123.89,390.56 129.36,388.52C140.30,384.45 151.25,380.72 162.19,380.72C176.26,380.72 190.33,384.28 204.40,384.28C227.85,384.28 251.30,383.69 274.75,383.39" fill="none" stroke="#000000" stroke-width="2.4" stroke-linejoin="round" stroke-linecap="round"/>
<path d="M112.95,398.33C118.42,394.54 123.89,388.92 129.36,386.96C140.30,383.03 151.25,379.60 162.19,379.60C176.26,379.60 190.33,380.72 204.40,380.72C227.85,380.72 251.30,372.69 274.75,368.67" fill="none" stroke="#000000" stroke-width="2.4" stroke-linejoin="round" stroke-linecap="round"/>
<path d="M112.95,397.44C118.42,392.76 123.89,387.20 129.36,383.39C140.30,375.78 151.25,364.88 162.19,364.88C176.26,364.88 190.33,364.88 204.40,364.88C227.85,364.88 251.30,365.48 274.75,365.77" fill="none" stroke="#000000" stroke-width="2.4" stroke-linejoin="round" stroke-linecap="round"/>
<path d="M112.95,399.67C118.42,395.43 123.89,390.05 129.36,386.96C140.30,380.79 151.25,373.13 162.19,373.13C176.26,373.13 190.33,376.03 204.40,376.03C227.85,376.03 251.30,369.19 274.75,365.77" fill="none" stroke="#000000" stroke-width="2.4" stroke-linejoin="round" stroke-linecap="round"/>
<path d="M239.58,465.65L242.58,471.35L236.58,471.35Z" fill="#e0452f"/>
<path d="M274.75,465.65L277.75,471.35L271.75,471.35Z" fill="#e0452f"/>
<circle cx="129.36" cy="468.80" r="3.10" fill="#e0452f"/>
<circle cx="145.78" cy="468.80" r="3.10" fill="#e0452f"/>
<circle cx="162.19" cy="468.80" r="3.10" fill="#e0452f"/>
<circle cx="204.40" cy="420.19" r="3.10" fill="#e0452f"/>
<circle cx="239.58" cy="429.78" r="3.10" fill="#e0452f"/>
<circle cx="274.75" cy="427.99" r="3.10" fill="#e0452f"/>
<circle cx="162.19" cy="399.67" r="3.10" fill="#3fae49"/>
<circle cx="204.40" cy="393.65" r="3.10" fill="#3fae49"/>
<circle cx="239.58" cy="404.80" r="3.10" fill="#3fae49"/>
<circle cx="274.75" cy="410.37" r="3.10" fill="#3fae49"/>
<rect x="79.71" y="466.05" width="5.50" height="5.50" fill="#3fae49"/>
<rect x="143.03" y="390.01" width="5.50" height="5.50" fill="#3fae49"/>
<rect x="159.44" y="391.79" width="5.50" height="5.50" fill="#3fae49"/>
<rect x="236.83" y="393.57" width="5.50" height="5.50" fill="#3fae49"/>
<rect x="272.00" y="389.12" width="5.50" height="5.50" fill="#3fae49"/>
<rect x="110.20" y="466.05" width="5.50" height="5.50" fill="#3fae49"/>
<circle cx="129.36" cy="407.48" r="3.10" fill="#3fae49"/>
<path d="M129.36,419.02L131.86,421.52L129.36,424.02L126.86,421.52Z" fill="#3fae49"/>
<circle cx="162.19" cy="385.40" r="3.10" fill="#6a5cae"/>
<circle cx="274.75" cy="404.80" r="3.10" fill="#6a5cae"/>
<path d="M96.53,425.05L99.03,427.55L96.53,430.05L94.03,427.55Z" fill="#000000"/>
<rect x="60.95" y="466.05" width="5.50" height="5.50" fill="#000000"/>
<rect x="93.78" y="466.05" width="5.50" height="5.50" fill="#000000"/>
<path d="M274.75,380.24L277.75,385.94L271.75,385.94Z" fill="#000000"/>
<path d="M162.19,362.38L164.69,364.88L162.19,367.38L159.69,364.88Z" fill="#000000"/>
<path d="M204.40,362.38L206.90,364.88L204.40,367.38L201.90,364.88Z" fill="#000000"/>
<rect x="110.20" y="396.92" width="5.50" height="5.50" fill="#000000"/>
<rect x="126.61" y="384.21" width="5.50" height="5.50" fill="#000000"/>
<rect x="159.44" y="370.38" width="5.50" height="5.50" fill="#000000"/>
<rect x="201.65" y="373.28" width="5.50" height="5.50" fill="#000000"/>
<rect x="272.00" y="363.02" width="5.50" height="5.50" fill="#000000"/>
<path d="M288.50,468.00C290.32,468.00 292.14,468.00 293.96,468.00C296.68,468.00 299.41,468.00 302.14,468.00C306.69,468.00 311.23,468.00 315.78,468.00C322.60,468.00 329.42,468.00 336.24,468.00C343.06,468.00 349.88,419.66 356.70,419.66C363.52,419.66 370.34,421.67 377.16,421.67C383.98,421.67 390.80,412.27 397.62,412.27C404.44,412.27 411.26,419.84 418.08,420.55C427.17,421.50 436.27,421.60 445.36,422.12" fill="none" stroke="#e0452f" stroke-width="2.0" stroke-linejoin="round" stroke-linecap="round"/>
<path d="M288.50,468.00C290.32,468.00 292.14,468.00 293.96,468.00C296.68,468.00 299.41,468.00 302.14,468.00C306.69,468.00 311.23,441.52 315.78,432.19C322.60,418.20 329.42,403.15 336.24,398.62C343.06,394.10 349.88,391.48 356.70,390.12C363.52,388.76 370.34,388.84 377.16,387.43C383.98,386.03 390.80,380.87 397.62,377.58" fill="none" stroke="#e0452f" stroke-width="2.0" stroke-linejoin="round" stroke-linecap="round"/>
<path d="M288.50,417.87L293.96,417.87L302.14,415.41L308.96,421.67L315.78,414.29L336.24,409.81L356.70,419.66" fill="none" stroke="#e0452f" stroke-width="2.0" stroke-linejoin="round" stroke-linecap="round"/>
<path d="M293.96,404.89L302.14,407.57L308.96,413.17L315.78,414.29L336.24,414.29L356.70,409.14" fill="none" stroke="#6a5cae" stroke-width="2.0" stroke-linejoin="round" stroke-linecap="round"/>
<path d="M288.50,415.18L293.96,410.48L315.78,409.81L336.24,395.71L356.70,397.50L377.16,397.50L397.62,398.17L418.08,393.25L445.36,390.12" fill="none" stroke="#3fae49" stroke-width="2.0" stroke-linejoin="round" stroke-linecap="round"/>
<path d="M288.50,395.26L293.96,394.15L302.14,395.71L308.96,395.71L315.78,395.71L336.24,400.19L356.70,397.50" fill="none" stroke="#3fae49" stroke-width="2.0" stroke-linejoin="round" stroke-linecap="round"/>
<path d="M288.50,395.26L293.96,391.91L302.14,389.67L315.78,384.52L336.24,374.23L356.70,371.54L377.16,374.00L397.62,372.44L418.08,371.77L445.36,371.32" fill="none" stroke="#3fae49" stroke-width="2.0" stroke-linejoin="round" stroke-linecap="round"/>
<path d="M293.96,381.39L315.78,362.81L336.24,363.26L356.70,367.29L377.16,378.93L397.62,367.29L418.08,366.17L445.36,364.60L479.46,363.26L503.33,368.63" fill="none" stroke="#000000" stroke-width="2.0" stroke-linejoin="round" stroke-linecap="round"/>
<path d="M336.24,363.26L356.70,371.77L377.16,370.65L397.62,369.53L418.08,372.44L445.36,364.60L479.46,380.72" fill="none" stroke="#000000" stroke-width="2.0" stroke-linejoin="round" stroke-linecap="round"/>
<path d="M445.36,363.93C451.04,363.82 469.80,362.48 479.46,363.26C489.12,364.04 499.35,367.74 503.33,368.63" fill="none" stroke="#000000" stroke-width="2.0" stroke-linejoin="round" stroke-linecap="round"/>
<path d="M293.96,362.81L315.78,362.81L336.24,362.81L356.70,363.26L377.16,362.81L397.62,363.26L418.08,362.81L445.36,363.26L479.46,363.26L503.33,363.26" fill="none" stroke="#000000" stroke-width="2.4" stroke-linejoin="round" stroke-linecap="round"/>
<path d="M288.50,465.50L291.00,468.00L288.50,470.50L286.00,468.00Z" fill="#e0452f"/>
<path d="M293.96,465.50L296.46,468.00L293.96,470.50L291.46,468.00Z" fill="#e0452f"/>
<path d="M302.14,465.50L304.64,468.00L302.14,470.50L299.64,468.00Z" fill="#e0452f"/>
<path d="M315.78,465.50L318.28,468.00L315.78,470.50L313.28,468.00Z" fill="#e0452f"/>
<path d="M336.24,465.50L338.74,468.00L336.24,470.50L333.74,468.00Z" fill="#e0452f"/>
<path d="M356.70,417.16L359.20,419.66L356.70,422.16L354.20,419.66Z" fill="#e0452f"/>
<path d="M377.16,419.17L379.66,421.67L377.16,424.17L374.66,421.67Z" fill="#e0452f"/>
<path d="M397.62,409.77L400.12,412.27L397.62,414.77L395.12,412.27Z" fill="#e0452f"/>
<path d="M418.08,418.05L420.58,420.55L418.08,423.05L415.58,420.55Z" fill="#e0452f"/>
<path d="M445.36,419.62L447.86,422.12L445.36,424.62L442.86,422.12Z" fill="#e0452f"/>
<path d="M288.50,464.85L291.50,470.55L285.50,470.55Z" fill="#e0452f"/>
<path d="M293.96,464.85L296.96,470.55L290.96,470.55Z" fill="#e0452f"/>
<path d="M302.14,464.85L305.14,470.55L299.14,470.55Z" fill="#e0452f"/>
<path d="M315.78,429.04L318.78,434.74L312.78,434.74Z" fill="#e0452f"/>
<path d="M356.70,386.97L359.70,392.67L353.70,392.67Z" fill="#e0452f"/>
<path d="M377.16,384.28L380.16,389.98L374.16,389.98Z" fill="#e0452f"/>
<path d="M397.62,374.43L400.62,380.13L394.62,380.13Z" fill="#e0452f"/>
<circle cx="293.96" cy="417.87" r="3.10" fill="#e0452f"/>
<circle cx="302.14" cy="415.41" r="3.10" fill="#e0452f"/>
<circle cx="308.96" cy="421.67" r="3.10" fill="#e0452f"/>
<circle cx="315.78" cy="414.29" r="3.10" fill="#e0452f"/>
<circle cx="336.24" cy="409.81" r="3.10" fill="#e0452f"/>
<circle cx="356.70" cy="419.66" r="3.10" fill="#e0452f"/>
<circle cx="293.96" cy="404.89" r="3.10" fill="#6a5cae"/>
<circle cx="302.14" cy="407.57" r="3.10" fill="#6a5cae"/>
<circle cx="308.96" cy="413.17" r="3.10" fill="#6a5cae"/>
<circle cx="315.78" cy="414.29" r="3.10" fill="#6a5cae"/>
<circle cx="336.24" cy="414.29" r="3.10" fill="#6a5cae"/>
<circle cx="356.70" cy="409.14" r="3.10" fill="#6a5cae"/>
<circle cx="288.50" cy="415.18" r="3.10" fill="#3fae49"/>
<circle cx="293.96" cy="410.48" r="3.10" fill="#3fae49"/>
<circle cx="315.78" cy="409.81" r="3.10" fill="#3fae49"/>
<circle cx="336.24" cy="395.71" r="3.10" fill="#3fae49"/>
<circle cx="356.70" cy="397.50" r="3.10" fill="#3fae49"/>
<circle cx="377.16" cy="397.50" r="3.10" fill="#3fae49"/>
<circle cx="397.62" cy="398.17" r="3.10" fill="#3fae49"/>
<circle cx="418.08" cy="393.25" r="3.10" fill="#3fae49"/>
<circle cx="445.36" cy="390.12" r="3.10" fill="#3fae49"/>
<rect x="285.75" y="392.51" width="5.50" height="5.50" fill="#3fae49"/>
<rect x="291.21" y="391.40" width="5.50" height="5.50" fill="#3fae49"/>
<rect x="299.39" y="392.96" width="5.50" height="5.50" fill="#3fae49"/>
<rect x="306.21" y="392.96" width="5.50" height="5.50" fill="#3fae49"/>
<rect x="313.03" y="392.96" width="5.50" height="5.50" fill="#3fae49"/>
<rect x="333.49" y="397.44" width="5.50" height="5.50" fill="#3fae49"/>
<rect x="353.95" y="394.75" width="5.50" height="5.50" fill="#3fae49"/>
<path d="M288.50,392.76L291.00,395.26L288.50,397.76L286.00,395.26Z" fill="#3fae49"/>
<path d="M293.96,389.41L296.46,391.91L293.96,394.41L291.46,391.91Z" fill="#3fae49"/>
<path d="M302.14,387.17L304.64,389.67L302.14,392.17L299.64,389.67Z" fill="#3fae49"/>
<path d="M315.78,382.02L318.28,384.52L315.78,387.02L313.28,384.52Z" fill="#3fae49"/>
<path d="M336.24,371.73L338.74,374.23L336.24,376.73L333.74,374.23Z" fill="#3fae49"/>
<path d="M356.70,369.04L359.20,371.54L356.70,374.04L354.20,371.54Z" fill="#3fae49"/>
<path d="M377.16,371.50L379.66,374.00L377.16,376.50L374.66,374.00Z" fill="#3fae49"/>
<path d="M397.62,369.94L400.12,372.44L397.62,374.94L395.12,372.44Z" fill="#3fae49"/>
<path d="M418.08,369.27L420.58,371.77L418.08,374.27L415.58,371.77Z" fill="#3fae49"/>
<path d="M445.36,368.82L447.86,371.32L445.36,373.82L442.86,371.32Z" fill="#3fae49"/>
<path d="M293.96,378.24L296.96,383.94L290.96,383.94Z" fill="#000000"/>
<path d="M377.16,375.78L380.16,381.48L374.16,381.48Z" fill="#000000"/>
<path d="M418.08,369.94L420.58,372.44L418.08,374.94L415.58,372.44Z" fill="#000000"/>
<path d="M479.46,378.22L481.96,380.72L479.46,383.22L476.96,380.72Z" fill="#000000"/>
<circle cx="503.33" cy="368.63" r="3.10" fill="#000000"/>
<rect x="291.21" y="360.06" width="5.50" height="5.50" fill="#000000"/>
<rect x="313.03" y="360.06" width="5.50" height="5.50" fill="#000000"/>
<rect x="333.49" y="360.06" width="5.50" height="5.50" fill="#000000"/>
<rect x="374.41" y="360.06" width="5.50" height="5.50" fill="#000000"/>
<rect x="415.33" y="360.06" width="5.50" height="5.50" fill="#000000"/>
<rect x="442.61" y="360.51" width="5.50" height="5.50" fill="#000000"/>
<rect x="476.71" y="360.51" width="5.50" height="5.50" fill="#000000"/>
<rect x="500.58" y="360.51" width="5.50" height="5.50" fill="#000000"/>
<path d="M63.30,620.00L82.42,620.00L96.76,620.00L113.49,620.00L130.22,620.00L146.95,620.00L163.68,620.00L206.70,620.00" fill="none" stroke="#000000" stroke-width="2.0" stroke-linejoin="round" stroke-linecap="round"/>
<path d="M206.70,620.00L242.55,620.00L278.40,620.00" fill="none" stroke="#e0452f" stroke-width="2.0" stroke-linejoin="round" stroke-linecap="round"/>
<path d="M96.76,620.00C102.34,620.00 107.91,620.00 113.49,620.00C119.07,620.00 124.64,579.58 130.22,576.11C135.80,572.64 141.37,570.20 146.95,570.20C152.53,570.20 158.10,573.58 163.68,573.58C178.02,573.58 192.36,555.86 206.70,555.86C218.65,555.86 230.60,558.93 242.55,561.55C254.50,564.17 266.45,569.99 278.40,574.21" fill="none" stroke="#3fae49" stroke-width="2.0" stroke-linejoin="round" stroke-linecap="round"/>
<rect x="60.55" y="617.25" width="5.50" height="5.50" fill="#000000"/>
<rect x="94.01" y="617.25" width="5.50" height="5.50" fill="#000000"/>
<rect x="110.74" y="617.25" width="5.50" height="5.50" fill="#000000"/>
<rect x="127.47" y="617.25" width="5.50" height="5.50" fill="#000000"/>
<rect x="160.93" y="617.25" width="5.50" height="5.50" fill="#000000"/>
<rect x="203.95" y="617.25" width="5.50" height="5.50" fill="#000000"/>
<rect x="239.80" y="617.25" width="5.50" height="5.50" fill="#e0452f"/>
<rect x="275.65" y="617.25" width="5.50" height="5.50" fill="#e0452f"/>
<circle cx="82.42" cy="620.00" r="3.10" fill="#3fae49"/>
<circle cx="146.95" cy="620.00" r="3.10" fill="#e0452f"/>
<circle cx="130.22" cy="576.11" r="3.10" fill="#3fae49"/>
<circle cx="146.95" cy="570.20" r="3.10" fill="#3fae49"/>
<circle cx="163.68" cy="573.58" r="3.10" fill="#3fae49"/>
<circle cx="206.70" cy="555.86" r="3.10" fill="#3fae49"/>
<circle cx="242.55" cy="561.55" r="3.10" fill="#3fae49"/>
<circle cx="278.40" cy="574.21" r="3.10" fill="#3fae49"/>
<path d="M291.50,620.00L298.64,620.00L318.70,620.00L339.10,620.00L359.50,620.00L379.90,620.00L400.30,620.00L420.70,620.00L447.90,620.00" fill="none" stroke="#000000" stroke-width="2.0" stroke-linejoin="round" stroke-linecap="round"/>
<path d="M298.64,620.00L305.44,620.00L312.24,620.00L318.70,620.00L339.10,620.00L359.50,620.00L379.90,620.00L400.30,620.00L420.70,620.00L447.90,620.00" fill="none" stroke="#e0452f" stroke-width="2.0" stroke-linejoin="round" stroke-linecap="round"/>
<path d="M298.64,620.00C299.77,614.20 303.17,589.93 305.44,585.18C307.71,580.44 309.97,590.39 312.24,591.51C314.51,592.64 314.56,591.87 319.04,591.94C323.52,592.01 332.36,591.94 339.10,591.94C345.84,591.94 356.10,591.94 359.50,591.94" fill="none" stroke="#6a5cae" stroke-width="2.0" stroke-linejoin="round" stroke-linecap="round"/>
<path d="M298.64,565.98L305.44,550.16L312.24,561.34L319.04,565.98L339.10,556.70L359.50,562.19" fill="none" stroke="#3fae49" stroke-width="2.0" stroke-linejoin="round" stroke-linecap="round"/>
<path d="M359.50,591.51C363.01,596.26 373.78,620.88 380.58,620.00C387.38,619.12 395.31,591.51 400.30,586.24C405.29,580.97 407.10,588.70 410.50,588.35C413.90,588.00 414.47,595.35 420.70,584.13C426.93,572.91 443.37,531.56 447.90,521.04" fill="none" stroke="#3fae49" stroke-width="2.0" stroke-linejoin="round" stroke-linecap="round"/>
<path d="M379.90,620.00L400.30,571.47" fill="none" stroke="#e0452f" stroke-width="2.0" stroke-linejoin="round" stroke-linecap="round"/>
<path d="M339.10,620.00C342.50,615.25 352.70,597.28 359.50,591.51C366.30,585.75 373.10,586.42 379.90,585.40C386.70,584.38 393.50,586.31 400.30,585.40C407.10,584.48 412.77,580.75 420.70,579.91C428.63,579.07 437.70,580.97 447.90,580.33C458.10,579.70 472.27,577.13 481.90,576.11C491.53,575.09 501.73,574.53 505.70,574.21" fill="none" stroke="#000000" stroke-width="2.0" stroke-linejoin="round" stroke-linecap="round"/>
<path d="M339.10,620.00C342.50,614.44 352.70,594.29 359.50,586.66C366.30,579.03 373.10,577.80 379.90,574.21C386.70,570.63 393.50,567.60 400.30,565.14C407.10,562.68 412.77,559.44 420.70,559.44C428.63,559.44 437.70,568.20 447.90,565.14C458.10,562.08 472.27,543.16 481.90,541.09C491.53,539.01 501.73,550.76 505.70,552.69" fill="none" stroke="#000000" stroke-width="2.0" stroke-linejoin="round" stroke-linecap="round"/>
<path d="M339.10,620.00C342.50,615.08 352.70,596.23 359.50,590.46C366.30,584.69 373.10,590.71 379.90,585.40C386.70,580.09 393.50,564.44 400.30,558.60C407.10,552.76 412.77,554.98 420.70,550.37C428.63,545.76 437.70,526.81 447.90,530.96C458.10,535.11 472.27,568.97 481.90,575.27C491.53,581.56 501.73,569.82 505.70,568.73" fill="none" stroke="#000000" stroke-width="2.0" stroke-linejoin="round" stroke-linecap="round"/>
<path d="M339.10,620.00C342.50,612.26 352.70,583.81 359.50,573.58C366.30,563.35 373.10,561.10 379.90,558.60C386.70,556.10 393.50,559.97 400.30,558.60C407.10,557.23 417.30,551.74 420.70,550.37" fill="none" stroke="#000000" stroke-width="2.0" stroke-linejoin="round" stroke-linecap="round"/>
<rect x="288.75" y="617.25" width="5.50" height="5.50" fill="#000000"/>
<rect x="295.89" y="617.25" width="5.50" height="5.50" fill="#000000"/>
<rect x="315.95" y="617.25" width="5.50" height="5.50" fill="#000000"/>
<rect x="336.35" y="617.25" width="5.50" height="5.50" fill="#000000"/>
<circle cx="305.44" cy="620.00" r="3.10" fill="#e0452f"/>
<circle cx="312.24" cy="620.00" r="3.10" fill="#e0452f"/>
<circle cx="359.50" cy="620.00" r="3.10" fill="#e0452f"/>
<rect x="397.55" y="617.25" width="5.50" height="5.50" fill="#d0603a"/>
<rect x="417.95" y="617.25" width="5.50" height="5.50" fill="#d0603a"/>
<rect x="445.15" y="617.25" width="5.50" height="5.50" fill="#d0603a"/>
<circle cx="305.44" cy="585.18" r="3.10" fill="#6a5cae"/>
<circle cx="312.24" cy="591.51" r="3.10" fill="#6a5cae"/>
<circle cx="319.04" cy="591.94" r="3.10" fill="#6a5cae"/>
<circle cx="339.10" cy="591.94" r="3.10" fill="#6a5cae"/>
<circle cx="298.64" cy="565.98" r="3.10" fill="#3fae49"/>
<circle cx="305.44" cy="550.16" r="3.10" fill="#3fae49"/>
<circle cx="312.24" cy="561.34" r="3.10" fill="#3fae49"/>
<circle cx="319.04" cy="565.98" r="3.10" fill="#3fae49"/>
<circle cx="339.10" cy="556.70" r="3.10" fill="#3fae49"/>
<circle cx="359.50" cy="562.19" r="3.10" fill="#3fae49"/>
<path d="M447.90,518.54L450.40,521.04L447.90,523.54L445.40,521.04Z" fill="#3fae49"/>
<path d="M400.30,568.32L403.30,574.02L397.30,574.02Z" fill="#e0452f"/>
<circle cx="379.90" cy="585.40" r="3.10" fill="#000000"/>
<circle cx="400.30" cy="585.40" r="3.10" fill="#000000"/>
<circle cx="420.70" cy="579.91" r="3.10" fill="#000000"/>
<circle cx="447.90" cy="580.33" r="3.10" fill="#000000"/>
<circle cx="481.90" cy="576.11" r="3.10" fill="#000000"/>
<circle cx="505.70" cy="574.21" r="3.10" fill="#000000"/>
<path d="M379.90,571.06L382.90,576.76L376.90,576.76Z" fill="#000000"/>
<path d="M400.30,561.99L403.30,567.69L397.30,567.69Z" fill="#000000"/>
<path d="M447.90,561.99L450.90,567.69L444.90,567.69Z" fill="#000000"/>
<path d="M481.90,537.94L484.90,543.64L478.90,543.64Z" fill="#000000"/>
<path d="M505.70,549.54L508.70,555.24L502.70,555.24Z" fill="#000000"/>
<path d="M447.90,527.56L451.30,530.96L447.90,534.36L444.50,530.96Z" fill="#000000"/>
<path d="M481.90,571.87L485.30,575.27L481.90,578.67L478.50,575.27Z" fill="#000000"/>
<path d="M505.70,565.33L509.10,568.73L505.70,572.13L502.30,568.73Z" fill="#000000"/>
<rect x="356.75" y="570.83" width="5.50" height="5.50" fill="#000000"/>
<rect x="377.15" y="555.85" width="5.50" height="5.50" fill="#000000"/>
<rect x="417.95" y="547.62" width="5.50" height="5.50" fill="#000000"/>
<path d="M510.80,617.98L512.73,621.64L508.87,621.64Z" fill="#000000"/>
<text x="0.80" y="163.10" font-size="14.5" font-weight="bold" text-anchor="start" fill="#000">B</text>
<defs><linearGradient id="topG" x1="0" x2="0" y1="0" y2="1"><stop offset="0" stop-color="#8a7a88" stop-opacity="0.6"/><stop offset="0.25" stop-color="#6a5468" stop-opacity="0.95"/><stop offset="0.6" stop-color="#7a6478" stop-opacity="0.5"/><stop offset="1" stop-color="#9a8a9a" stop-opacity="0"/></linearGradient><linearGradient id="smearG" x1="0" x2="0" y1="0" y2="1"><stop offset="0" stop-color="#7a7098" stop-opacity="0"/><stop offset="0.1" stop-color="#7a7098" stop-opacity="0.7"/><stop offset="0.9" stop-color="#7a7098" stop-opacity="0.7"/><stop offset="1" stop-color="#7a7098" stop-opacity="0"/></linearGradient><filter id="bl" x="-0.5" y="-0.1" width="2" height="1.2"><feGaussianBlur stdDeviation="0.4"/></filter></defs>
<g filter="url(#bl)">
<rect x="19.60" y="161.50" width="3.60" height="108.00" fill="#f6f0f4"/>
<rect x="19.60" y="161.50" width="0.8" height="108.00" fill="#e6c2d5"/>
<rect x="22.40" y="161.50" width="0.8" height="108.00" fill="#e6c2d5"/>
<rect x="20.10" y="163.00" width="2.60" height="40" fill="url(#topG)" opacity="1.00"/>
<rect x="19.90" y="264.10" width="3.00" height="3.00" rx="0.6" fill="#24162e" opacity="0.85"/>
<rect x="19.90" y="243.90" width="3.00" height="2.20" rx="0.6" fill="#24162e" opacity="0.15"/>
<rect x="32.50" y="164.00" width="3.60" height="105.50" fill="#f6f0f4"/>
<rect x="32.50" y="164.00" width="0.8" height="105.50" fill="#e6c2d5"/>
<rect x="35.30" y="164.00" width="0.8" height="105.50" fill="#e6c2d5"/>
<rect x="33.00" y="165.50" width="2.60" height="11" fill="url(#topG)" opacity="0.20"/>
<rect x="32.80" y="203.90" width="3.00" height="2.20" rx="0.6" fill="#24162e" opacity="0.50"/>
<rect x="32.80" y="217.80" width="3.00" height="3.00" rx="0.6" fill="#24162e" opacity="0.85"/>
<rect x="32.80" y="223.10" width="3.00" height="3.00" rx="0.6" fill="#24162e" opacity="0.75"/>
<rect x="32.80" y="230.10" width="3.00" height="2.20" rx="0.6" fill="#24162e" opacity="0.40"/>
<rect x="32.80" y="237.40" width="3.00" height="2.20" rx="0.6" fill="#24162e" opacity="0.35"/>
<rect x="32.50" y="241.45" width="3.60" height="3.50" rx="0.6" fill="#24162e" opacity="1.00"/>
<rect x="32.80" y="254.30" width="3.00" height="3.00" rx="0.6" fill="#24162e" opacity="0.80"/>
<rect x="32.80" y="264.50" width="3.00" height="2.20" rx="0.6" fill="#24162e" opacity="0.45"/>
<rect x="43.80" y="161.50" width="3.60" height="108.00" fill="#f6f0f4"/>
<rect x="43.80" y="161.50" width="0.8" height="108.00" fill="#e6c2d5"/>
<rect x="46.60" y="161.50" width="0.8" height="108.00" fill="#e6c2d5"/>
<rect x="44.30" y="163.00" width="2.60" height="11" fill="url(#topG)" opacity="0.70"/>
<rect x="44.10" y="219.90" width="3.00" height="2.20" rx="0.6" fill="#24162e" opacity="0.20"/>
<rect x="44.10" y="248.90" width="3.00" height="2.20" rx="0.6" fill="#24162e" opacity="0.25"/>
<rect x="44.10" y="256.90" width="3.00" height="2.20" rx="0.6" fill="#24162e" opacity="0.30"/>
<rect x="44.10" y="260.90" width="3.00" height="2.20" rx="0.6" fill="#24162e" opacity="0.35"/>
<rect x="44.10" y="264.90" width="3.00" height="2.20" rx="0.6" fill="#24162e" opacity="0.40"/>
<rect x="56.80" y="162.40" width="3.60" height="107.10" fill="#f6f0f4"/>
<rect x="56.80" y="162.40" width="0.8" height="107.10" fill="#e6c2d5"/>
<rect x="59.60" y="162.40" width="0.8" height="107.10" fill="#e6c2d5"/>
<rect x="57.30" y="163.90" width="2.60" height="11" fill="url(#topG)" opacity="0.60"/>
<rect x="57.20" y="198" width="2.80" height="66" fill="url(#smearG)" opacity="0.30"/>
<rect x="57.10" y="203.90" width="3.00" height="2.20" rx="0.6" fill="#24162e" opacity="0.15"/>
<rect x="57.10" y="218.20" width="3.00" height="2.20" rx="0.6" fill="#24162e" opacity="0.55"/>
<rect x="57.10" y="223.50" width="3.00" height="2.20" rx="0.6" fill="#24162e" opacity="0.50"/>
<rect x="57.10" y="230.10" width="3.00" height="2.20" rx="0.6" fill="#24162e" opacity="0.30"/>
<rect x="57.10" y="241.70" width="3.00" height="3.00" rx="0.6" fill="#24162e" opacity="0.95"/>
<rect x="57.10" y="254.30" width="3.00" height="3.00" rx="0.6" fill="#24162e" opacity="0.90"/>
<rect x="57.10" y="264.50" width="3.00" height="2.20" rx="0.6" fill="#24162e" opacity="0.35"/>
<rect x="67.90" y="162.40" width="3.60" height="107.10" fill="#f6f0f4"/>
<rect x="67.90" y="162.40" width="0.8" height="107.10" fill="#e6c2d5"/>
<rect x="70.70" y="162.40" width="0.8" height="107.10" fill="#e6c2d5"/>
<rect x="68.40" y="163.90" width="2.60" height="11" fill="url(#topG)" opacity="0.60"/>
<rect x="68.30" y="198" width="2.80" height="66" fill="url(#smearG)" opacity="0.35"/>
<rect x="68.20" y="203.90" width="3.00" height="2.20" rx="0.6" fill="#24162e" opacity="0.20"/>
<rect x="68.20" y="218.20" width="3.00" height="2.20" rx="0.6" fill="#24162e" opacity="0.55"/>
<rect x="68.20" y="223.50" width="3.00" height="2.20" rx="0.6" fill="#24162e" opacity="0.55"/>
<rect x="68.20" y="230.10" width="3.00" height="2.20" rx="0.6" fill="#24162e" opacity="0.35"/>
<rect x="68.20" y="241.70" width="3.00" height="3.00" rx="0.6" fill="#24162e" opacity="0.95"/>
<rect x="68.20" y="254.30" width="3.00" height="3.00" rx="0.6" fill="#24162e" opacity="0.95"/>
<rect x="68.20" y="264.50" width="3.00" height="2.20" rx="0.6" fill="#24162e" opacity="0.35"/>
<rect x="78.70" y="162.40" width="3.60" height="107.10" fill="#f6f0f4"/>
<rect x="78.70" y="162.40" width="0.8" height="107.10" fill="#e6c2d5"/>
<rect x="81.50" y="162.40" width="0.8" height="107.10" fill="#e6c2d5"/>
<rect x="79.20" y="163.90" width="2.60" height="11" fill="url(#topG)" opacity="0.60"/>
<rect x="79.10" y="198" width="2.80" height="66" fill="url(#smearG)" opacity="0.80"/>
<rect x="79.00" y="203.90" width="3.00" height="2.20" rx="0.6" fill="#24162e" opacity="0.60"/>
<rect x="79.00" y="209.70" width="3.00" height="2.20" rx="0.6" fill="#24162e" opacity="0.25"/>
<rect x="79.00" y="217.80" width="3.00" height="3.00" rx="0.6" fill="#24162e" opacity="0.90"/>
<rect x="79.00" y="223.10" width="3.00" height="3.00" rx="0.6" fill="#24162e" opacity="0.85"/>
<rect x="79.00" y="230.10" width="3.00" height="2.20" rx="0.6" fill="#24162e" opacity="0.55"/>
<rect x="79.00" y="237.40" width="3.00" height="2.20" rx="0.6" fill="#24162e" opacity="0.45"/>
<rect x="78.70" y="241.45" width="3.60" height="3.50" rx="0.6" fill="#24162e" opacity="1.00"/>
<rect x="79.00" y="249.40" width="3.00" height="2.20" rx="0.6" fill="#24162e" opacity="0.25"/>
<rect x="78.70" y="254.05" width="3.60" height="3.50" rx="0.6" fill="#24162e" opacity="1.00"/>
<rect x="79.00" y="259.10" width="3.00" height="2.20" rx="0.6" fill="#24162e" opacity="0.20"/>
<rect x="79.00" y="264.50" width="3.00" height="2.20" rx="0.6" fill="#24162e" opacity="0.50"/>
<rect x="91.60" y="162.40" width="3.60" height="107.10" fill="#f6f0f4"/>
<rect x="91.60" y="162.40" width="0.8" height="107.10" fill="#e6c2d5"/>
<rect x="94.40" y="162.40" width="0.8" height="107.10" fill="#e6c2d5"/>
<rect x="92.10" y="163.90" width="2.60" height="11" fill="url(#topG)" opacity="0.60"/>
<rect x="92.00" y="198" width="2.80" height="66" fill="url(#smearG)" opacity="0.90"/>
<rect x="91.90" y="203.90" width="3.00" height="2.20" rx="0.6" fill="#24162e" opacity="0.60"/>
<rect x="91.90" y="209.70" width="3.00" height="2.20" rx="0.6" fill="#24162e" opacity="0.25"/>
<rect x="91.90" y="217.80" width="3.00" height="3.00" rx="0.6" fill="#24162e" opacity="0.90"/>
<rect x="91.90" y="223.10" width="3.00" height="3.00" rx="0.6" fill="#24162e" opacity="0.85"/>
<rect x="91.90" y="230.10" width="3.00" height="2.20" rx="0.6" fill="#24162e" opacity="0.55"/>
<rect x="91.90" y="237.40" width="3.00" height="2.20" rx="0.6" fill="#24162e" opacity="0.45"/>
<rect x="91.60" y="241.45" width="3.60" height="3.50" rx="0.6" fill="#24162e" opacity="1.00"/>
<rect x="91.90" y="249.40" width="3.00" height="2.20" rx="0.6" fill="#24162e" opacity="0.25"/>
<rect x="91.60" y="254.05" width="3.60" height="3.50" rx="0.6" fill="#24162e" opacity="1.00"/>
<rect x="91.90" y="259.10" width="3.00" height="2.20" rx="0.6" fill="#24162e" opacity="0.20"/>
<rect x="91.90" y="264.50" width="3.00" height="2.20" rx="0.6" fill="#24162e" opacity="0.50"/>
<rect x="102.90" y="162.40" width="3.60" height="107.10" fill="#f6f0f4"/>
<rect x="102.90" y="162.40" width="0.8" height="107.10" fill="#e6c2d5"/>
<rect x="105.70" y="162.40" width="0.8" height="107.10" fill="#e6c2d5"/>
<rect x="103.40" y="163.90" width="2.60" height="11" fill="url(#topG)" opacity="0.60"/>
<rect x="103.30" y="198" width="2.80" height="66" fill="url(#smearG)" opacity="1.00"/>
<rect x="103.20" y="203.90" width="3.00" height="2.20" rx="0.6" fill="#24162e" opacity="0.60"/>
<rect x="103.20" y="209.70" width="3.00" height="2.20" rx="0.6" fill="#24162e" opacity="0.25"/>
<rect x="103.20" y="217.80" width="3.00" height="3.00" rx="0.6" fill="#24162e" opacity="0.90"/>
<rect x="103.20" y="223.10" width="3.00" height="3.00" rx="0.6" fill="#24162e" opacity="0.85"/>
<rect x="103.20" y="230.10" width="3.00" height="2.20" rx="0.6" fill="#24162e" opacity="0.55"/>
<rect x="103.20" y="237.40" width="3.00" height="2.20" rx="0.6" fill="#24162e" opacity="0.45"/>
<rect x="102.90" y="241.45" width="3.60" height="3.50" rx="0.6" fill="#24162e" opacity="1.00"/>
<rect x="103.20" y="249.40" width="3.00" height="2.20" rx="0.6" fill="#24162e" opacity="0.25"/>
<rect x="102.90" y="254.05" width="3.60" height="3.50" rx="0.6" fill="#24162e" opacity="1.00"/>
<rect x="103.20" y="259.10" width="3.00" height="2.20" rx="0.6" fill="#24162e" opacity="0.20"/>
<rect x="103.20" y="264.50" width="3.00" height="2.20" rx="0.6" fill="#24162e" opacity="0.50"/>
<rect x="115.20" y="166.50" width="3.60" height="103.00" fill="#f3dde8"/>
<rect x="115.20" y="166.50" width="0.8" height="103.00" fill="#e6b8d0"/>
<rect x="118.00" y="166.50" width="0.8" height="103.00" fill="#e6b8d0"/>
<rect x="115.70" y="168.00" width="2.60" height="11" fill="url(#topG)" opacity="0.90"/>
<rect x="115.50" y="264.10" width="3.00" height="3.00" rx="0.6" fill="#24162e" opacity="0.95"/>
<rect x="126.80" y="166.50" width="3.60" height="103.00" fill="#fdf9fb"/>
<rect x="126.80" y="166.50" width="0.8" height="103.00" fill="#f1d6e3"/>
<rect x="129.60" y="166.50" width="0.8" height="103.00" fill="#f1d6e3"/>
<rect x="127.30" y="168.00" width="2.60" height="11" fill="url(#topG)" opacity="0.45"/>
<rect x="127.10" y="218.20" width="3.00" height="2.20" rx="0.6" fill="#24162e" opacity="0.25"/>
<rect x="127.10" y="223.50" width="3.00" height="2.20" rx="0.6" fill="#24162e" opacity="0.20"/>
<rect x="127.10" y="242.10" width="3.00" height="2.20" rx="0.6" fill="#24162e" opacity="0.60"/>
<rect x="127.10" y="254.70" width="3.00" height="2.20" rx="0.6" fill="#24162e" opacity="0.15"/>
<rect x="127.10" y="264.50" width="3.00" height="2.20" rx="0.6" fill="#24162e" opacity="0.45"/>
<rect x="138.30" y="166.50" width="3.60" height="103.00" fill="#fdf9fb"/>
<rect x="138.30" y="166.50" width="0.8" height="103.00" fill="#f1d6e3"/>
<rect x="141.10" y="166.50" width="0.8" height="103.00" fill="#f1d6e3"/>
<rect x="138.80" y="168.00" width="2.60" height="11" fill="url(#topG)" opacity="0.45"/>
<rect x="138.60" y="218.20" width="3.00" height="2.20" rx="0.6" fill="#24162e" opacity="0.20"/>
<rect x="138.60" y="242.10" width="3.00" height="2.20" rx="0.6" fill="#24162e" opacity="0.60"/>
<rect x="138.60" y="254.70" width="3.00" height="2.20" rx="0.6" fill="#24162e" opacity="0.15"/>
<rect x="138.60" y="264.50" width="3.00" height="2.20" rx="0.6" fill="#24162e" opacity="0.45"/>
<rect x="150.80" y="166.50" width="3.60" height="103.00" fill="#f6f0f4"/>
<rect x="150.80" y="166.50" width="0.8" height="103.00" fill="#e6c2d5"/>
<rect x="153.60" y="166.50" width="0.8" height="103.00" fill="#e6c2d5"/>
<rect x="151.30" y="168.00" width="2.60" height="11" fill="url(#topG)" opacity="0.45"/>
<rect x="151.10" y="203.90" width="3.00" height="2.20" rx="0.6" fill="#24162e" opacity="0.30"/>
<rect x="151.10" y="209.70" width="3.00" height="2.20" rx="0.6" fill="#24162e" opacity="0.20"/>
<rect x="151.10" y="218.20" width="3.00" height="2.20" rx="0.6" fill="#24162e" opacity="0.60"/>
<rect x="151.10" y="223.50" width="3.00" height="2.20" rx="0.6" fill="#24162e" opacity="0.60"/>
<rect x="151.10" y="230.10" width="3.00" height="2.20" rx="0.6" fill="#24162e" opacity="0.40"/>
<rect x="151.10" y="237.40" width="3.00" height="2.20" rx="0.6" fill="#24162e" opacity="0.45"/>
<rect x="150.80" y="241.45" width="3.60" height="3.50" rx="0.6" fill="#24162e" opacity="1.00"/>
<rect x="151.10" y="254.70" width="3.00" height="2.20" rx="0.6" fill="#24162e" opacity="0.55"/>
<rect x="151.10" y="264.50" width="3.00" height="2.20" rx="0.6" fill="#24162e" opacity="0.40"/>
<rect x="162.90" y="166.50" width="3.60" height="103.00" fill="#f6f0f4"/>
<rect x="162.90" y="166.50" width="0.8" height="103.00" fill="#e6c2d5"/>
<rect x="165.70" y="166.50" width="0.8" height="103.00" fill="#e6c2d5"/>
<rect x="163.40" y="168.00" width="2.60" height="11" fill="url(#topG)" opacity="0.45"/>
<rect x="163.20" y="203.90" width="3.00" height="2.20" rx="0.6" fill="#24162e" opacity="0.30"/>
<rect x="163.20" y="209.70" width="3.00" height="2.20" rx="0.6" fill="#24162e" opacity="0.20"/>
<rect x="163.20" y="218.20" width="3.00" height="2.20" rx="0.6" fill="#24162e" opacity="0.65"/>
<rect x="163.20" y="223.50" width="3.00" height="2.20" rx="0.6" fill="#24162e" opacity="0.65"/>
<rect x="163.20" y="230.10" width="3.00" height="2.20" rx="0.6" fill="#24162e" opacity="0.40"/>
<rect x="163.20" y="237.40" width="3.00" height="2.20" rx="0.6" fill="#24162e" opacity="0.50"/>
<rect x="162.90" y="241.45" width="3.60" height="3.50" rx="0.6" fill="#24162e" opacity="1.00"/>
<rect x="163.20" y="254.70" width="3.00" height="2.20" rx="0.6" fill="#24162e" opacity="0.60"/>
<rect x="163.20" y="264.50" width="3.00" height="2.20" rx="0.6" fill="#24162e" opacity="0.40"/>
<rect x="175.00" y="166.50" width="3.60" height="103.00" fill="#f6f0f4"/>
<rect x="175.00" y="166.50" width="0.8" height="103.00" fill="#e6c2d5"/>
<rect x="177.80" y="166.50" width="0.8" height="103.00" fill="#e6c2d5"/>
<rect x="175.50" y="168.00" width="2.60" height="11" fill="url(#topG)" opacity="0.55"/>
<rect x="175.40" y="198" width="2.80" height="66" fill="url(#smearG)" opacity="0.30"/>
<rect x="175.30" y="203.90" width="3.00" height="2.20" rx="0.6" fill="#24162e" opacity="0.50"/>
<rect x="175.30" y="209.70" width="3.00" height="2.20" rx="0.6" fill="#24162e" opacity="0.35"/>
<rect x="175.30" y="217.80" width="3.00" height="3.00" rx="0.6" fill="#24162e" opacity="0.75"/>
<rect x="175.30" y="223.10" width="3.00" height="3.00" rx="0.6" fill="#24162e" opacity="0.75"/>
<rect x="175.30" y="230.10" width="3.00" height="2.20" rx="0.6" fill="#24162e" opacity="0.60"/>
<rect x="175.30" y="237.40" width="3.00" height="2.20" rx="0.6" fill="#24162e" opacity="0.60"/>
<rect x="175.00" y="241.45" width="3.60" height="3.50" rx="0.6" fill="#24162e" opacity="1.00"/>
<rect x="175.30" y="254.30" width="3.00" height="3.00" rx="0.6" fill="#24162e" opacity="0.75"/>
<rect x="175.30" y="264.50" width="3.00" height="2.20" rx="0.6" fill="#24162e" opacity="0.45"/>
<rect x="186.10" y="166.50" width="3.60" height="103.00" fill="#f3dde8"/>
<rect x="186.10" y="166.50" width="0.8" height="103.00" fill="#e6b8d0"/>
<rect x="188.90" y="166.50" width="0.8" height="103.00" fill="#e6b8d0"/>
<rect x="186.60" y="168.00" width="2.60" height="11" fill="url(#topG)" opacity="0.70"/>
<rect x="186.40" y="264.10" width="3.00" height="3.00" rx="0.6" fill="#24162e" opacity="0.90"/>
<rect x="197.10" y="166.50" width="3.60" height="103.00" fill="#f6f0f4"/>
<rect x="197.10" y="166.50" width="0.8" height="103.00" fill="#e6c2d5"/>
<rect x="199.90" y="166.50" width="0.8" height="103.00" fill="#e6c2d5"/>
<rect x="197.60" y="168.00" width="2.60" height="11" fill="url(#topG)" opacity="0.60"/>
<rect x="197.40" y="241.70" width="3.00" height="3.00" rx="0.6" fill="#24162e" opacity="0.95"/>
<rect x="197.40" y="254.70" width="3.00" height="2.20" rx="0.6" fill="#24162e" opacity="0.35"/>
<rect x="197.40" y="264.50" width="3.00" height="2.20" rx="0.6" fill="#24162e" opacity="0.35"/>
<rect x="209.70" y="166.50" width="3.60" height="103.00" fill="#f6f0f4"/>
<rect x="209.70" y="166.50" width="0.8" height="103.00" fill="#e6c2d5"/>
<rect x="212.50" y="166.50" width="0.8" height="103.00" fill="#e6c2d5"/>
<rect x="210.20" y="168.00" width="2.60" height="11" fill="url(#topG)" opacity="0.60"/>
<rect x="210.00" y="218.20" width="3.00" height="2.20" rx="0.6" fill="#24162e" opacity="0.30"/>
<rect x="210.00" y="223.50" width="3.00" height="2.20" rx="0.6" fill="#24162e" opacity="0.30"/>
<rect x="210.00" y="241.70" width="3.00" height="3.00" rx="0.6" fill="#24162e" opacity="0.95"/>
<rect x="210.00" y="254.70" width="3.00" height="2.20" rx="0.6" fill="#24162e" opacity="0.60"/>
<rect x="210.00" y="264.50" width="3.00" height="2.20" rx="0.6" fill="#24162e" opacity="0.35"/>
<rect x="221.40" y="166.50" width="3.60" height="103.00" fill="#f6f0f4"/>
<rect x="221.40" y="166.50" width="0.8" height="103.00" fill="#e6c2d5"/>
<rect x="224.20" y="166.50" width="0.8" height="103.00" fill="#e6c2d5"/>
<rect x="221.90" y="168.00" width="2.60" height="11" fill="url(#topG)" opacity="0.60"/>
<rect x="221.80" y="198" width="2.80" height="66" fill="url(#smearG)" opacity="0.60"/>
<rect x="221.70" y="203.90" width="3.00" height="2.20" rx="0.6" fill="#24162e" opacity="0.30"/>
<rect x="221.70" y="218.20" width="3.00" height="2.20" rx="0.6" fill="#24162e" opacity="0.55"/>
<rect x="221.70" y="223.50" width="3.00" height="2.20" rx="0.6" fill="#24162e" opacity="0.60"/>
<rect x="221.70" y="230.10" width="3.00" height="2.20" rx="0.6" fill="#24162e" opacity="0.45"/>
<rect x="221.70" y="237.40" width="3.00" height="2.20" rx="0.6" fill="#24162e" opacity="0.55"/>
<rect x="221.40" y="241.45" width="3.60" height="3.50" rx="0.6" fill="#24162e" opacity="1.00"/>
<rect x="221.70" y="254.30" width="3.00" height="3.00" rx="0.6" fill="#24162e" opacity="0.75"/>
<rect x="221.70" y="264.50" width="3.00" height="2.20" rx="0.6" fill="#24162e" opacity="0.35"/>
<rect x="233.20" y="166.50" width="3.60" height="103.00" fill="#f6f0f4"/>
<rect x="233.20" y="166.50" width="0.8" height="103.00" fill="#e6c2d5"/>
<rect x="236.00" y="166.50" width="0.8" height="103.00" fill="#e6c2d5"/>
<rect x="233.70" y="168.00" width="2.60" height="11" fill="url(#topG)" opacity="0.60"/>
<rect x="233.60" y="198" width="2.80" height="66" fill="url(#smearG)" opacity="0.60"/>
<rect x="233.50" y="203.90" width="3.00" height="2.20" rx="0.6" fill="#24162e" opacity="0.30"/>
<rect x="233.50" y="218.20" width="3.00" height="2.20" rx="0.6" fill="#24162e" opacity="0.55"/>
<rect x="233.50" y="223.50" width="3.00" height="2.20" rx="0.6" fill="#24162e" opacity="0.60"/>
<rect x="233.50" y="230.10" width="3.00" height="2.20" rx="0.6" fill="#24162e" opacity="0.45"/>
<rect x="233.50" y="237.40" width="3.00" height="2.20" rx="0.6" fill="#24162e" opacity="0.55"/>
<rect x="233.20" y="241.45" width="3.60" height="3.50" rx="0.6" fill="#24162e" opacity="1.00"/>
<rect x="233.50" y="254.30" width="3.00" height="3.00" rx="0.6" fill="#24162e" opacity="0.75"/>
<rect x="233.50" y="264.50" width="3.00" height="2.20" rx="0.6" fill="#24162e" opacity="0.35"/>
<rect x="247.80" y="166.50" width="3.60" height="103.00" fill="#f6f0f4"/>
<rect x="247.80" y="166.50" width="0.8" height="103.00" fill="#e6c2d5"/>
<rect x="250.60" y="166.50" width="0.8" height="103.00" fill="#e6c2d5"/>
<rect x="248.30" y="168.00" width="2.60" height="11" fill="url(#topG)" opacity="0.60"/>
<rect x="248.20" y="198" width="2.80" height="66" fill="url(#smearG)" opacity="0.85"/>
<rect x="248.10" y="203.90" width="3.00" height="2.20" rx="0.6" fill="#24162e" opacity="0.45"/>
<rect x="248.10" y="217.80" width="3.00" height="3.00" rx="0.6" fill="#24162e" opacity="0.75"/>
<rect x="248.10" y="223.10" width="3.00" height="3.00" rx="0.6" fill="#24162e" opacity="0.70"/>
<rect x="248.10" y="230.10" width="3.00" height="2.20" rx="0.6" fill="#24162e" opacity="0.55"/>
<rect x="248.10" y="237.40" width="3.00" height="2.20" rx="0.6" fill="#24162e" opacity="0.65"/>
<rect x="247.80" y="241.45" width="3.60" height="3.50" rx="0.6" fill="#24162e" opacity="1.00"/>
<rect x="248.10" y="254.30" width="3.00" height="3.00" rx="0.6" fill="#24162e" opacity="0.90"/>
<rect x="248.10" y="264.50" width="3.00" height="2.20" rx="0.6" fill="#24162e" opacity="0.40"/>
<rect x="259.70" y="166.50" width="3.60" height="103.00" fill="#f3dde8"/>
<rect x="259.70" y="166.50" width="0.8" height="103.00" fill="#e6b8d0"/>
<rect x="262.50" y="166.50" width="0.8" height="103.00" fill="#e6b8d0"/>
<rect x="260.20" y="168.00" width="2.60" height="11" fill="url(#topG)" opacity="0.85"/>
<rect x="260.00" y="264.10" width="3.00" height="3.00" rx="0.6" fill="#24162e" opacity="0.90"/>
<rect x="271.80" y="166.50" width="3.60" height="103.00" fill="#f6f0f4"/>
<rect x="271.80" y="166.50" width="0.8" height="103.00" fill="#e6c2d5"/>
<rect x="274.60" y="166.50" width="0.8" height="103.00" fill="#e6c2d5"/>
<rect x="272.30" y="168.00" width="2.60" height="11" fill="url(#topG)" opacity="0.50"/>
<rect x="272.10" y="218.20" width="3.00" height="2.20" rx="0.6" fill="#24162e" opacity="0.20"/>
<rect x="272.10" y="223.50" width="3.00" height="2.20" rx="0.6" fill="#24162e" opacity="0.15"/>
<rect x="272.10" y="241.70" width="3.00" height="3.00" rx="0.6" fill="#24162e" opacity="0.90"/>
<rect x="272.10" y="254.70" width="3.00" height="2.20" rx="0.6" fill="#24162e" opacity="0.30"/>
<rect x="272.10" y="264.50" width="3.00" height="2.20" rx="0.6" fill="#24162e" opacity="0.30"/>
<rect x="284.40" y="166.50" width="3.60" height="103.00" fill="#f6f0f4"/>
<rect x="284.40" y="166.50" width="0.8" height="103.00" fill="#e6c2d5"/>
<rect x="287.20" y="166.50" width="0.8" height="103.00" fill="#e6c2d5"/>
<rect x="284.90" y="168.00" width="2.60" height="11" fill="url(#topG)" opacity="0.50"/>
<rect x="284.70" y="218.20" width="3.00" height="2.20" rx="0.6" fill="#24162e" opacity="0.30"/>
<rect x="284.70" y="223.50" width="3.00" height="2.20" rx="0.6" fill="#24162e" opacity="0.25"/>
<rect x="284.70" y="241.70" width="3.00" height="3.00" rx="0.6" fill="#24162e" opacity="0.95"/>
<rect x="284.70" y="254.70" width="3.00" height="2.20" rx="0.6" fill="#24162e" opacity="0.35"/>
<rect x="284.70" y="264.50" width="3.00" height="2.20" rx="0.6" fill="#24162e" opacity="0.30"/>
<rect x="298.70" y="166.50" width="3.60" height="103.00" fill="#f6f0f4"/>
<rect x="298.70" y="166.50" width="0.8" height="103.00" fill="#e6c2d5"/>
<rect x="301.50" y="166.50" width="0.8" height="103.00" fill="#e6c2d5"/>
<rect x="299.20" y="168.00" width="2.60" height="11" fill="url(#topG)" opacity="0.50"/>
<rect x="299.00" y="218.20" width="3.00" height="2.20" rx="0.6" fill="#24162e" opacity="0.45"/>
<rect x="299.00" y="223.50" width="3.00" height="2.20" rx="0.6" fill="#24162e" opacity="0.45"/>
<rect x="299.00" y="230.10" width="3.00" height="2.20" rx="0.6" fill="#24162e" opacity="0.20"/>
<rect x="298.70" y="241.45" width="3.60" height="3.50" rx="0.6" fill="#24162e" opacity="1.00"/>
<rect x="299.00" y="254.70" width="3.00" height="2.20" rx="0.6" fill="#24162e" opacity="0.60"/>
<rect x="299.00" y="264.50" width="3.00" height="2.20" rx="0.6" fill="#24162e" opacity="0.30"/>
<rect x="312.20" y="166.50" width="3.60" height="103.00" fill="#f6f0f4"/>
<rect x="312.20" y="166.50" width="0.8" height="103.00" fill="#e6c2d5"/>
<rect x="315.00" y="166.50" width="0.8" height="103.00" fill="#e6c2d5"/>
<rect x="312.70" y="168.00" width="2.60" height="11" fill="url(#topG)" opacity="0.50"/>
<rect x="312.50" y="209.70" width="3.00" height="2.20" rx="0.6" fill="#24162e" opacity="0.25"/>
<rect x="312.50" y="218.20" width="3.00" height="2.20" rx="0.6" fill="#24162e" opacity="0.45"/>
<rect x="312.50" y="223.50" width="3.00" height="2.20" rx="0.6" fill="#24162e" opacity="0.50"/>
<rect x="312.50" y="230.10" width="3.00" height="2.20" rx="0.6" fill="#24162e" opacity="0.30"/>
<rect x="312.50" y="237.40" width="3.00" height="2.20" rx="0.6" fill="#24162e" opacity="0.25"/>
<rect x="312.20" y="241.45" width="3.60" height="3.50" rx="0.6" fill="#24162e" opacity="1.00"/>
<rect x="312.50" y="254.70" width="3.00" height="2.20" rx="0.6" fill="#24162e" opacity="0.60"/>
<rect x="312.50" y="264.50" width="3.00" height="2.20" rx="0.6" fill="#24162e" opacity="0.30"/>
<rect x="325.60" y="166.50" width="3.60" height="103.00" fill="#f6f0f4"/>
<rect x="325.60" y="166.50" width="0.8" height="103.00" fill="#e6c2d5"/>
<rect x="328.40" y="166.50" width="0.8" height="103.00" fill="#e6c2d5"/>
<rect x="326.10" y="168.00" width="2.60" height="11" fill="url(#topG)" opacity="0.50"/>
<rect x="326.00" y="198" width="2.80" height="66" fill="url(#smearG)" opacity="0.35"/>
<rect x="325.90" y="203.90" width="3.00" height="2.20" rx="0.6" fill="#24162e" opacity="0.50"/>
<rect x="325.90" y="209.70" width="3.00" height="2.20" rx="0.6" fill="#24162e" opacity="0.30"/>
<rect x="325.90" y="218.20" width="3.00" height="2.20" rx="0.6" fill="#24162e" opacity="0.60"/>
<rect x="325.90" y="223.50" width="3.00" height="2.20" rx="0.6" fill="#24162e" opacity="0.65"/>
<rect x="325.90" y="230.10" width="3.00" height="2.20" rx="0.6" fill="#24162e" opacity="0.55"/>
<rect x="325.90" y="237.40" width="3.00" height="2.20" rx="0.6" fill="#24162e" opacity="0.50"/>
<rect x="325.60" y="241.45" width="3.60" height="3.50" rx="0.6" fill="#24162e" opacity="1.00"/>
<rect x="325.90" y="254.70" width="3.00" height="2.20" rx="0.6" fill="#24162e" opacity="0.55"/>
<rect x="325.90" y="264.50" width="3.00" height="2.20" rx="0.6" fill="#24162e" opacity="0.30"/>
<rect x="335.80" y="165.50" width="3.60" height="104.00" fill="#f3dde8"/>
<rect x="335.80" y="165.50" width="0.8" height="104.00" fill="#e6b8d0"/>
<rect x="338.60" y="165.50" width="0.8" height="104.00" fill="#e6b8d0"/>
<rect x="336.30" y="167.00" width="2.60" height="11" fill="url(#topG)" opacity="1.00"/>
<rect x="336.20" y="198" width="2.80" height="66" fill="url(#smearG)" opacity="0.15"/>
<rect x="336.10" y="264.10" width="3.00" height="3.00" rx="0.6" fill="#24162e" opacity="0.95"/>
<rect x="345.95" y="166.50" width="3.30" height="103.00" fill="#fdf9fb"/>
<rect x="345.95" y="166.50" width="0.8" height="103.00" fill="#f1d6e3"/>
<rect x="348.45" y="166.50" width="0.8" height="103.00" fill="#f1d6e3"/>
<rect x="346.45" y="168.00" width="2.30" height="11" fill="url(#topG)" opacity="0.30"/>
<rect x="346.25" y="256.30" width="2.70" height="2.20" rx="0.6" fill="#24162e" opacity="0.30"/>
<rect x="346.25" y="264.50" width="2.70" height="2.20" rx="0.6" fill="#24162e" opacity="0.50"/>
<rect x="361.75" y="166.50" width="3.30" height="103.00" fill="#fdf9fb"/>
<rect x="361.75" y="166.50" width="0.8" height="103.00" fill="#f1d6e3"/>
<rect x="364.25" y="166.50" width="0.8" height="103.00" fill="#f1d6e3"/>
<rect x="362.25" y="168.00" width="2.30" height="11" fill="url(#topG)" opacity="0.30"/>
<rect x="362.05" y="242.10" width="2.70" height="2.20" rx="0.6" fill="#24162e" opacity="0.30"/>
<rect x="362.05" y="256.30" width="2.70" height="2.20" rx="0.6" fill="#24162e" opacity="0.30"/>
<rect x="362.05" y="264.50" width="2.70" height="2.20" rx="0.6" fill="#24162e" opacity="0.55"/>
<rect x="376.95" y="166.50" width="3.30" height="103.00" fill="#fdf9fb"/>
<rect x="376.95" y="166.50" width="0.8" height="103.00" fill="#f1d6e3"/>
<rect x="379.45" y="166.50" width="0.8" height="103.00" fill="#f1d6e3"/>
<rect x="377.45" y="168.00" width="2.30" height="11" fill="url(#topG)" opacity="0.30"/>
<rect x="377.25" y="256.70" width="2.70" height="2.20" rx="0.6" fill="#24162e" opacity="0.55"/>
<rect x="377.25" y="264.50" width="2.70" height="2.20" rx="0.6" fill="#24162e" opacity="0.50"/>
<rect x="392.35" y="166.50" width="3.30" height="103.00" fill="#fdf9fb"/>
<rect x="392.35" y="166.50" width="0.8" height="103.00" fill="#f1d6e3"/>
<rect x="394.85" y="166.50" width="0.8" height="103.00" fill="#f1d6e3"/>
<rect x="392.85" y="168.00" width="2.30" height="11" fill="url(#topG)" opacity="0.35"/>
<rect x="392.65" y="256.70" width="2.70" height="2.20" rx="0.6" fill="#24162e" opacity="0.40"/>
<rect x="392.65" y="264.50" width="2.70" height="2.20" rx="0.6" fill="#24162e" opacity="0.55"/>
<rect x="409.05" y="166.50" width="3.30" height="103.00" fill="#fdf9fb"/>
<rect x="409.05" y="166.50" width="0.8" height="103.00" fill="#f1d6e3"/>
<rect x="411.55" y="166.50" width="0.8" height="103.00" fill="#f1d6e3"/>
<rect x="409.55" y="168.00" width="2.30" height="11" fill="url(#topG)" opacity="0.35"/>
<rect x="409.35" y="210.50" width="2.70" height="2.20" rx="0.6" fill="#24162e" opacity="0.30"/>
<rect x="409.35" y="230.90" width="2.70" height="2.20" rx="0.6" fill="#24162e" opacity="0.35"/>
<rect x="409.35" y="242.10" width="2.70" height="2.20" rx="0.6" fill="#24162e" opacity="0.45"/>
<rect x="409.35" y="264.50" width="2.70" height="2.20" rx="0.6" fill="#24162e" opacity="0.40"/>
<rect x="421.00" y="165.20" width="3.60" height="104.30" fill="#f3dde8"/>
<rect x="421.00" y="165.20" width="0.8" height="104.30" fill="#e6b8d0"/>
<rect x="423.80" y="165.20" width="0.8" height="104.30" fill="#e6b8d0"/>
<rect x="421.50" y="166.70" width="2.60" height="11" fill="url(#topG)" opacity="1.00"/>
<rect x="421.30" y="264.10" width="3.00" height="3.00" rx="0.6" fill="#24162e" opacity="0.90"/>
<rect x="435.95" y="166.00" width="3.30" height="103.50" fill="#fdf9fb"/>
<rect x="435.95" y="166.00" width="0.8" height="103.50" fill="#f1d6e3"/>
<rect x="438.45" y="166.00" width="0.8" height="103.50" fill="#f1d6e3"/>
<rect x="436.45" y="167.50" width="2.30" height="11" fill="url(#topG)" opacity="0.15"/>
<rect x="436.25" y="264.10" width="2.70" height="3.00" rx="0.6" fill="#24162e" opacity="0.70"/>
<rect x="451.95" y="166.00" width="3.30" height="103.50" fill="#fdf9fb"/>
<rect x="451.95" y="166.00" width="0.8" height="103.50" fill="#f1d6e3"/>
<rect x="454.45" y="166.00" width="0.8" height="103.50" fill="#f1d6e3"/>
<rect x="452.45" y="167.50" width="2.30" height="11" fill="url(#topG)" opacity="0.15"/>
<rect x="452.25" y="264.10" width="2.70" height="3.00" rx="0.6" fill="#24162e" opacity="0.70"/>
<rect x="466.75" y="166.00" width="3.30" height="103.50" fill="#fdf9fb"/>
<rect x="466.75" y="166.00" width="0.8" height="103.50" fill="#f1d6e3"/>
<rect x="469.25" y="166.00" width="0.8" height="103.50" fill="#f1d6e3"/>
<rect x="467.25" y="167.50" width="2.30" height="11" fill="url(#topG)" opacity="0.15"/>
<rect x="467.05" y="264.10" width="2.70" height="3.00" rx="0.6" fill="#24162e" opacity="0.70"/>
<rect x="482.05" y="166.00" width="3.30" height="103.50" fill="#fdf9fb"/>
<rect x="482.05" y="166.00" width="0.8" height="103.50" fill="#f1d6e3"/>
<rect x="484.55" y="166.00" width="0.8" height="103.50" fill="#f1d6e3"/>
<rect x="482.55" y="167.50" width="2.30" height="11" fill="url(#topG)" opacity="0.15"/>
<rect x="482.35" y="264.10" width="2.70" height="3.00" rx="0.6" fill="#24162e" opacity="0.70"/>
<rect x="496.85" y="166.00" width="3.30" height="103.50" fill="#fdf9fb"/>
<rect x="496.85" y="166.00" width="0.8" height="103.50" fill="#f1d6e3"/>
<rect x="499.35" y="166.00" width="0.8" height="103.50" fill="#f1d6e3"/>
<rect x="497.35" y="167.50" width="2.30" height="11" fill="url(#topG)" opacity="0.35"/>
<rect x="497.15" y="264.10" width="2.70" height="3.00" rx="0.6" fill="#24162e" opacity="0.70"/>
</g>
<text x="3.00" y="201.10" font-size="4.2" font-weight="normal" text-anchor="start" fill="#000" stroke="#000" stroke-width="0.15">gp160</text>
<text x="3.00" y="205.30" font-size="4.2" font-weight="normal" text-anchor="start" fill="#000" stroke="#000" stroke-width="0.15">gp120</text>
<text x="3.00" y="211.90" font-size="4.2" font-weight="normal" text-anchor="start" fill="#000" stroke="#000" stroke-width="0.15">gp80</text>
<text x="3.00" y="219.00" font-size="4.2" font-weight="normal" text-anchor="start" fill="#000" stroke="#000" stroke-width="0.15">p66</text>
<text x="3.00" y="225.80" font-size="4.2" font-weight="normal" text-anchor="start" fill="#000" stroke="#000" stroke-width="0.15">p55</text>
<text x="3.00" y="232.10" font-size="4.2" font-weight="normal" text-anchor="start" fill="#000" stroke="#000" stroke-width="0.15">gp41</text>
<text x="3.00" y="239.20" font-size="4.2" font-weight="normal" text-anchor="start" fill="#000" stroke="#000" stroke-width="0.15">p31</text>
<text x="3.00" y="244.80" font-size="4.2" font-weight="normal" text-anchor="start" fill="#000" stroke="#000" stroke-width="0.15">p27</text>
<text x="3.00" y="257.10" font-size="4.2" font-weight="normal" text-anchor="start" fill="#000" stroke="#000" stroke-width="0.15">p17</text>
<text x="3.00" y="264.60" font-size="4.2" font-weight="normal" text-anchor="start" fill="#000" stroke="#000" stroke-width="0.15">serum</text>
<text x="3.00" y="269.00" font-size="4.2" font-weight="normal" text-anchor="start" fill="#000" stroke="#000" stroke-width="0.15">control</text>
<text x="21.40" y="276.20" font-size="3.9" font-weight="normal" text-anchor="middle" fill="#000" stroke="#000" stroke-width="0.12">NC</text>
<text x="34.30" y="276.20" font-size="3.9" font-weight="normal" text-anchor="middle" fill="#000" stroke="#000" stroke-width="0.12">PC</text>
<text x="45.60" y="276.20" font-size="3.9" font-weight="normal" text-anchor="middle" fill="#000" stroke="#000" stroke-width="0.12">D0</text>
<text x="58.60" y="276.20" font-size="3.9" font-weight="normal" text-anchor="middle" fill="#000" stroke="#000" stroke-width="0.12">D42</text>
<text x="69.70" y="276.20" font-size="3.9" font-weight="normal" text-anchor="middle" fill="#000" stroke="#000" stroke-width="0.12">D60</text>
<text x="80.50" y="276.20" font-size="3.9" font-weight="normal" text-anchor="middle" fill="#000" stroke="#000" stroke-width="0.12">D105</text>
<text x="93.40" y="276.20" font-size="3.9" font-weight="normal" text-anchor="middle" fill="#000" stroke="#000" stroke-width="0.12">D119</text>
<text x="104.70" y="276.20" font-size="3.9" font-weight="normal" text-anchor="middle" fill="#000" stroke="#000" stroke-width="0.12">D184</text>
<text x="117.00" y="276.20" font-size="3.9" font-weight="normal" text-anchor="middle" fill="#000" stroke="#000" stroke-width="0.12">D0</text>
<text x="128.60" y="276.20" font-size="3.9" font-weight="normal" text-anchor="middle" fill="#000" stroke="#000" stroke-width="0.12">D42</text>
<text x="140.10" y="276.20" font-size="3.9" font-weight="normal" text-anchor="middle" fill="#000" stroke="#000" stroke-width="0.12">D60</text>
<text x="152.60" y="276.20" font-size="3.9" font-weight="normal" text-anchor="middle" fill="#000" stroke="#000" stroke-width="0.12">D105</text>
<text x="164.70" y="276.20" font-size="3.9" font-weight="normal" text-anchor="middle" fill="#000" stroke="#000" stroke-width="0.12">D119</text>
<text x="176.80" y="276.20" font-size="3.9" font-weight="normal" text-anchor="middle" fill="#000" stroke="#000" stroke-width="0.12">D184</text>
<text x="187.90" y="276.20" font-size="3.9" font-weight="normal" text-anchor="middle" fill="#000" stroke="#000" stroke-width="0.12">D0</text>
<text x="198.90" y="276.20" font-size="3.9" font-weight="normal" text-anchor="middle" fill="#000" stroke="#000" stroke-width="0.12">D28</text>
<text x="211.50" y="276.20" font-size="3.9" font-weight="normal" text-anchor="middle" fill="#000" stroke="#000" stroke-width="0.12">D60</text>
<text x="223.20" y="276.20" font-size="3.9" font-weight="normal" text-anchor="middle" fill="#000" stroke="#000" stroke-width="0.12">D90</text>
<text x="235.00" y="276.20" font-size="3.9" font-weight="normal" text-anchor="middle" fill="#000" stroke="#000" stroke-width="0.12">D120</text>
<text x="249.60" y="276.20" font-size="3.9" font-weight="normal" text-anchor="middle" fill="#000" stroke="#000" stroke-width="0.12">D180</text>
<text x="261.50" y="276.20" font-size="3.9" font-weight="normal" text-anchor="middle" fill="#000" stroke="#000" stroke-width="0.12">D0</text>
<text x="273.60" y="276.20" font-size="3.9" font-weight="normal" text-anchor="middle" fill="#000" stroke="#000" stroke-width="0.12">D28</text>
<text x="286.20" y="276.20" font-size="3.9" font-weight="normal" text-anchor="middle" fill="#000" stroke="#000" stroke-width="0.12">D60</text>
<text x="300.50" y="276.20" font-size="3.9" font-weight="normal" text-anchor="middle" fill="#000" stroke="#000" stroke-width="0.12">D90</text>
<text x="314.00" y="276.20" font-size="3.9" font-weight="normal" text-anchor="middle" fill="#000" stroke="#000" stroke-width="0.12">D120</text>
<text x="327.40" y="276.20" font-size="3.9" font-weight="normal" text-anchor="middle" fill="#000" stroke="#000" stroke-width="0.12">D180</text>
<text x="337.60" y="276.20" font-size="3.9" font-weight="normal" text-anchor="middle" fill="#000" stroke="#000" stroke-width="0.12">D0</text>
<text x="349.00" y="276.20" font-size="3.9" font-weight="normal" text-anchor="middle" fill="#000" stroke="#000" stroke-width="0.12">D28</text>
<text x="363.40" y="276.20" font-size="3.9" font-weight="normal" text-anchor="middle" fill="#000" stroke="#000" stroke-width="0.12">D60</text>
<text x="378.60" y="276.20" font-size="3.9" font-weight="normal" text-anchor="middle" fill="#000" stroke="#000" stroke-width="0.12">D90</text>
<text x="394.00" y="276.20" font-size="3.9" font-weight="normal" text-anchor="middle" fill="#000" stroke="#000" stroke-width="0.12">D120</text>
<text x="410.70" y="276.20" font-size="3.9" font-weight="normal" text-anchor="middle" fill="#000" stroke="#000" stroke-width="0.12">D180</text>
<text x="422.80" y="276.20" font-size="3.9" font-weight="normal" text-anchor="middle" fill="#000" stroke="#000" stroke-width="0.12">D0</text>
<text x="438.00" y="276.20" font-size="3.9" font-weight="normal" text-anchor="middle" fill="#000" stroke="#000" stroke-width="0.12">D28</text>
<text x="453.60" y="276.20" font-size="3.9" font-weight="normal" text-anchor="middle" fill="#000" stroke="#000" stroke-width="0.12">D60</text>
<text x="468.40" y="276.20" font-size="3.9" font-weight="normal" text-anchor="middle" fill="#000" stroke="#000" stroke-width="0.12">D90</text>
<text x="483.70" y="276.20" font-size="3.9" font-weight="normal" text-anchor="middle" fill="#000" stroke="#000" stroke-width="0.12">D120</text>
<text x="498.50" y="276.20" font-size="3.9" font-weight="normal" text-anchor="middle" fill="#000" stroke="#000" stroke-width="0.12">D180</text>
<line x1="41.00" y1="279.4" x2="112.50" y2="279.4" stroke="#000" stroke-width="1"/>
<rect x="41.00" y="277.9" width="5.4" height="2.8" fill="#000"/>
<rect x="107.10" y="277.9" width="5.4" height="2.8" fill="#000"/>
<text x="75.00" y="288.20" font-size="5.6" font-weight="bold" text-anchor="middle" fill="#000" stroke="#000" stroke-width="0.123">DG34</text>
<line x1="113.50" y1="279.4" x2="184.30" y2="279.4" stroke="#000" stroke-width="1"/>
<rect x="113.50" y="277.9" width="5.4" height="2.8" fill="#000"/>
<rect x="178.90" y="277.9" width="5.4" height="2.8" fill="#000"/>
<text x="150.80" y="288.20" font-size="5.6" font-weight="bold" text-anchor="middle" fill="#000" stroke="#000" stroke-width="0.123">DH44</text>
<line x1="185.60" y1="279.4" x2="257.20" y2="279.4" stroke="#000" stroke-width="1"/>
<rect x="185.60" y="277.9" width="5.4" height="2.8" fill="#000"/>
<rect x="251.80" y="277.9" width="5.4" height="2.8" fill="#000"/>
<text x="221.80" y="288.20" font-size="5.6" font-weight="bold" text-anchor="middle" fill="#000" stroke="#000" stroke-width="0.123">DG04</text>
<line x1="259.80" y1="279.4" x2="332.00" y2="279.4" stroke="#000" stroke-width="1"/>
<rect x="259.80" y="277.9" width="5.4" height="2.8" fill="#000"/>
<rect x="326.60" y="277.9" width="5.4" height="2.8" fill="#000"/>
<text x="298.50" y="288.20" font-size="5.6" font-weight="bold" text-anchor="middle" fill="#000" stroke="#000" stroke-width="0.123">CA16</text>
<line x1="335.40" y1="279.4" x2="415.60" y2="279.4" stroke="#000" stroke-width="1"/>
<rect x="335.40" y="277.9" width="5.4" height="2.8" fill="#000"/>
<rect x="410.20" y="277.9" width="5.4" height="2.8" fill="#000"/>
<text x="377.10" y="288.20" font-size="5.6" font-weight="bold" text-anchor="middle" fill="#000" stroke="#000" stroke-width="0.123">CF03</text>
<line x1="421.00" y1="279.4" x2="501.70" y2="279.4" stroke="#000" stroke-width="1"/>
<rect x="421.00" y="277.9" width="5.4" height="2.8" fill="#000"/>
<rect x="496.30" y="277.9" width="5.4" height="2.8" fill="#000"/>
<text x="462.30" y="288.20" font-size="5.6" font-weight="bold" text-anchor="middle" fill="#000" stroke="#000" stroke-width="0.123">BT49</text>
<line x1="188.4" y1="290.8" x2="329.0" y2="290.8" stroke="#000" stroke-width="1.2"/>
<line x1="343.5" y1="290.8" x2="500.0" y2="290.8" stroke="#000" stroke-width="1.2"/>
<text x="257.50" y="302.30" font-size="9.7" font-weight="bold" text-anchor="middle" fill="#000" textLength="127.5" lengthAdjust="spacingAndGlyphs" stroke="#000" stroke-width="0.213">Incomplete tissue depletion</text>
<text x="421.80" y="302.30" font-size="9.7" font-weight="bold" text-anchor="middle" fill="#000" textLength="120.5" lengthAdjust="spacingAndGlyphs" stroke="#000" stroke-width="0.213">Complete tissue depletion</text>
<line x1="44.4" y1="310.3" x2="184.0" y2="310.3" stroke="#000" stroke-width="1.2"/>
<line x1="187.4" y1="310.3" x2="500.0" y2="310.3" stroke="#000" stroke-width="1.2"/>
<text x="114.20" y="330.00" font-size="11.6" font-weight="bold" text-anchor="middle" fill="#000" textLength="76.9" lengthAdjust="spacingAndGlyphs" stroke="#000" stroke-width="0.255">Control group</text>
<text x="357.30" y="324.30" font-size="11.6" font-weight="bold" text-anchor="middle" fill="#000" textLength="118.0" lengthAdjust="spacingAndGlyphs" stroke="#000" stroke-width="0.255">CD20-depleted group</text>
<text x="357.10" y="334.60" font-size="9.7" font-weight="bold" text-anchor="middle" fill="#000" textLength="228.8" lengthAdjust="spacingAndGlyphs" stroke="#000" stroke-width="0.213">(all showing complete peripheral CD20 depletion)</text>
<rect x="43.5" y="660.0" width="467.7" height="11.2" fill="#fff" stroke="#c8c8c8" stroke-width="0.8"/>
<line x1="46.00" y1="665.3" x2="64.40" y2="665.3" stroke="#3fae49" stroke-width="2"/>
<path d="M55.20,663.16L57.34,665.30L55.20,667.44L53.06,665.30Z" fill="#3fae49"/>
<text x="66.60" y="668.20" font-size="7.3" font-weight="bold" text-anchor="start" fill="#000" textLength="18.4" lengthAdjust="spacingAndGlyphs" stroke="#000" stroke-width="0.161">DG04</text>
<line x1="89.70" y1="665.3" x2="108.10" y2="665.3" stroke="#3fae49" stroke-width="2"/>
<rect x="96.54" y="662.94" width="4.71" height="4.71" fill="#3fae49"/>
<text x="110.00" y="668.20" font-size="7.3" font-weight="bold" text-anchor="start" fill="#000" textLength="18.5" lengthAdjust="spacingAndGlyphs" stroke="#000" stroke-width="0.161">CA16</text>
<line x1="132.60" y1="665.3" x2="151.00" y2="665.3" stroke="#e0452f" stroke-width="2"/>
<path d="M141.80,662.60L144.37,667.49L139.23,667.49Z" fill="#e0452f"/>
<text x="153.40" y="668.20" font-size="7.3" font-weight="bold" text-anchor="start" fill="#000" textLength="18.9" lengthAdjust="spacingAndGlyphs" stroke="#000" stroke-width="0.161">CF03</text>
<line x1="175.80" y1="665.3" x2="194.20" y2="665.3" stroke="#e0452f" stroke-width="2"/>
<path d="M185.00,663.16L187.14,665.30L185.00,667.44L182.86,665.30Z" fill="#e0452f"/>
<text x="195.70" y="668.20" font-size="7.3" font-weight="bold" text-anchor="start" fill="#000" textLength="17.8" lengthAdjust="spacingAndGlyphs" stroke="#000" stroke-width="0.161">BT49</text>
<line x1="217.00" y1="665.3" x2="235.40" y2="665.3" stroke="#6a5cae" stroke-width="2"/>
<circle cx="226.20" cy="665.30" r="2.66" fill="#6a5cae"/>
<text x="237.70" y="668.20" font-size="7.3" font-weight="bold" text-anchor="start" fill="#000" textLength="15.7" lengthAdjust="spacingAndGlyphs" stroke="#000" stroke-width="0.161">EI74</text>
<line x1="257.30" y1="665.3" x2="275.70" y2="665.3" stroke="#e0452f" stroke-width="2"/>
<circle cx="266.50" cy="665.30" r="2.66" fill="#e0452f"/>
<text x="277.40" y="668.20" font-size="7.3" font-weight="bold" text-anchor="start" fill="#000" textLength="15.6" lengthAdjust="spacingAndGlyphs" stroke="#000" stroke-width="0.161">EI09</text>
<line x1="297.00" y1="665.3" x2="315.40" y2="665.3" stroke="#3fae49" stroke-width="2"/>
<circle cx="306.20" cy="665.30" r="2.66" fill="#3fae49"/>
<text x="317.20" y="668.20" font-size="7.3" font-weight="bold" text-anchor="start" fill="#000" textLength="16.6" lengthAdjust="spacingAndGlyphs" stroke="#000" stroke-width="0.161">EL55</text>
<line x1="339.00" y1="665.3" x2="357.40" y2="665.3" stroke="#000000" stroke-width="2"/>
<path d="M348.20,663.16L350.34,665.30L348.20,667.44L346.06,665.30Z" fill="#000000"/>
<text x="358.80" y="668.20" font-size="7.3" font-weight="bold" text-anchor="start" fill="#000" textLength="18.4" lengthAdjust="spacingAndGlyphs" stroke="#000" stroke-width="0.161">DG34</text>
<line x1="381.80" y1="665.3" x2="400.20" y2="665.3" stroke="#000000" stroke-width="2"/>
<circle cx="391.00" cy="665.30" r="2.66" fill="#000000"/>
<text x="403.00" y="668.20" font-size="7.3" font-weight="bold" text-anchor="start" fill="#000" textLength="17.8" lengthAdjust="spacingAndGlyphs" stroke="#000" stroke-width="0.161">DH44</text>
<line x1="425.00" y1="665.3" x2="443.40" y2="665.3" stroke="#000000" stroke-width="2"/>
<path d="M434.20,662.60L436.77,667.49L431.63,667.49Z" fill="#000000"/>
<text x="446.00" y="668.20" font-size="7.3" font-weight="bold" text-anchor="start" fill="#000" textLength="18.6" lengthAdjust="spacingAndGlyphs" stroke="#000" stroke-width="0.161">DD93</text>
<line x1="469.00" y1="665.3" x2="487.40" y2="665.3" stroke="#000000" stroke-width="2"/>
<rect x="475.84" y="662.94" width="4.71" height="4.71" fill="#000000"/>
<text x="490.00" y="668.20" font-size="7.3" font-weight="bold" text-anchor="start" fill="#000" textLength="17.7" lengthAdjust="spacingAndGlyphs" stroke="#000" stroke-width="0.161">BV85</text>
<line x1="507.6" y1="384.0" x2="509.4" y2="384.0" stroke="#b8b8b8" stroke-width="0.8"/>
<line x1="507.6" y1="431.2" x2="509.4" y2="431.2" stroke="#b8b8b8" stroke-width="0.8"/>
<line x1="507.6" y1="477.6" x2="509.4" y2="477.6" stroke="#b8b8b8" stroke-width="0.8"/>
<circle cx="504.6" cy="190.3" r="0.6" fill="#9a8aa0"/>
</svg>
</body></html>
